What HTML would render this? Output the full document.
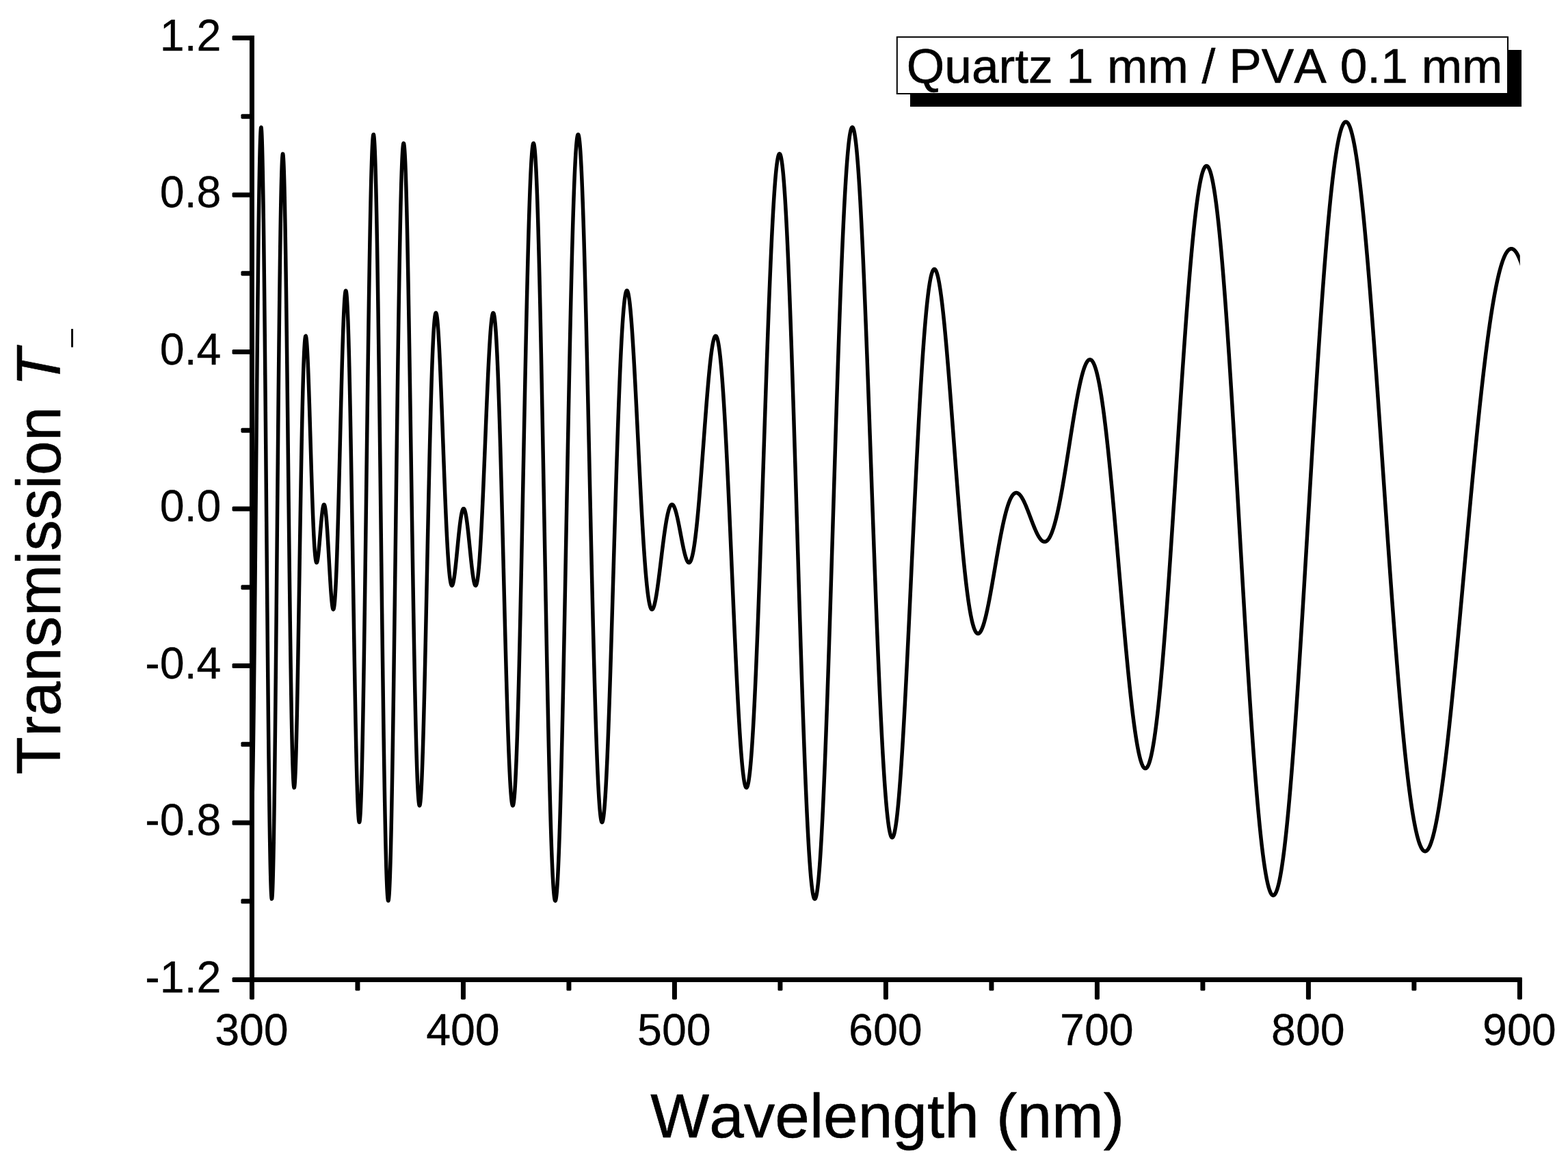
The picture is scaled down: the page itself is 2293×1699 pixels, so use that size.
<!DOCTYPE html>
<html lang="en">
<head>
<meta charset="utf-8">
<title>Transmission spectrum - Quartz 1 mm / PVA 0.1 mm</title>
<style>
html,body{margin:0;padding:0;background:#fff;}
body{width:2293px;height:1699px;overflow:hidden;}
svg{display:block;}
text{font-family:"Liberation Sans", Arial, Helvetica, sans-serif;font-kerning:none;fill:#000;stroke:#000;stroke-width:0.6px;stroke-linejoin:round;}
.tick{font-size:64.5px;stroke-width:0.3px;}
.title{font-size:91.0px;}
.legend{font-size:71.3px;}
.sub{font-size:46px;stroke:none;}
.ax{stroke:#000;stroke-width:7.0;stroke-linecap:round;fill:none;}
.tk{stroke:#000;stroke-width:7.0;stroke-linecap:round;fill:none;}
.curve{stroke:#000;stroke-width:5.5;stroke-linejoin:round;stroke-linecap:butt;fill:none;}
</style>
</head>
<body>
<svg width="2293" height="1699" viewBox="0 0 2293 1699">
<rect x="0" y="0" width="2293" height="1699" fill="#fff"/>
<clipPath id="plotclip"><rect x="368.45" y="0" width="1854.35" height="1699"/></clipPath>
<polyline class="curve" clip-path="url(#plotclip)" points="368.95,1174.00 369.26,1158.83 369.57,1141.80 369.88,1122.97 370.19,1102.41 370.49,1080.21 370.80,1056.45 371.11,1031.23 371.42,1004.64 371.73,976.80 372.04,947.81 372.35,917.80 372.66,886.88 372.97,855.19 373.28,822.86 373.58,790.02 373.89,756.80 374.20,723.36 374.51,689.82 374.82,656.32 375.13,623.02 375.44,590.04 375.75,557.54 376.06,525.63 376.37,494.47 376.67,464.19 376.98,434.90 377.29,406.74 377.60,379.83 377.91,354.27 378.22,330.19 378.53,307.68 378.84,286.84 379.15,267.76 379.46,250.52 379.76,235.20 380.07,221.85 380.38,210.55 380.69,201.34 381.00,194.26 381.31,189.34 381.62,186.61 381.93,186.08 382.24,187.76 382.55,191.63 382.85,197.69 383.16,205.92 383.47,216.28 383.78,228.74 384.09,243.24 384.40,259.73 384.71,278.14 385.02,298.40 385.33,320.43 385.64,344.14 385.94,369.45 386.25,396.24 386.56,424.41 386.87,453.85 387.18,484.44 387.49,516.06 387.80,548.59 388.11,581.89 388.42,615.84 388.73,650.30 389.03,685.14 389.34,720.22 389.65,755.39 389.96,790.53 390.27,825.50 390.58,860.16 390.89,894.37 391.20,928.00 391.51,960.93 391.82,993.02 392.12,1024.16 392.43,1054.23 392.74,1083.10 393.05,1110.68 393.36,1136.85 393.67,1161.52 393.98,1184.61 394.29,1206.01 394.60,1225.67 394.91,1243.49 395.21,1259.43 395.52,1273.42 395.83,1285.42 396.14,1295.39 396.45,1303.29 396.76,1309.10 397.07,1312.81 397.38,1314.40 397.69,1313.88 398.00,1311.26 398.30,1306.56 398.61,1299.79 398.92,1290.99 399.23,1280.20 399.54,1267.48 399.85,1252.87 400.16,1236.43 400.47,1218.24 400.78,1198.37 401.09,1176.90 401.39,1153.92 401.70,1129.52 402.01,1103.80 402.32,1076.85 402.63,1048.79 402.94,1019.72 403.25,989.76 403.56,959.01 403.87,927.61 404.18,895.66 404.48,863.28 404.79,830.61 405.10,797.75 405.41,764.84 405.72,731.99 406.03,699.32 406.34,666.95 406.65,635.00 406.96,603.58 407.26,572.80 407.57,542.78 407.88,513.61 408.19,485.40 408.50,458.25 408.81,432.24 409.12,407.46 409.43,383.99 409.74,361.92 410.05,341.31 410.35,322.22 410.66,304.72 410.97,288.86 411.28,274.68 411.59,262.22 411.90,251.52 412.21,242.59 412.52,235.47 412.83,230.16 413.14,226.66 413.44,224.98 413.75,225.11 414.06,227.03 414.37,230.73 414.68,236.17 414.99,243.33 415.30,252.16 415.61,262.62 415.92,274.65 416.23,288.21 416.53,303.24 416.84,319.65 417.15,337.40 417.46,356.40 417.77,376.57 418.08,397.83 418.39,420.11 418.70,443.30 419.01,467.33 419.32,492.09 419.62,517.50 419.93,543.46 420.24,569.88 420.55,596.65 420.86,623.69 421.17,650.89 421.48,678.15 421.79,705.39 422.10,732.50 422.41,759.40 422.71,785.99 423.02,812.19 423.33,837.90 423.64,863.04 423.95,887.53 424.26,911.30 424.57,934.27 424.88,956.37 425.19,977.53 425.50,997.68 425.80,1016.78 426.11,1034.77 426.42,1051.60 426.73,1067.22 427.04,1081.59 427.35,1094.68 427.66,1106.47 427.97,1116.92 428.28,1126.02 428.59,1133.75 428.89,1140.10 429.20,1145.07 429.51,1148.66 429.82,1150.87 430.13,1151.72 430.44,1151.22 430.75,1149.39 431.06,1146.25 431.37,1141.83 431.68,1136.17 431.98,1129.30 432.29,1121.26 432.60,1112.10 432.91,1101.86 433.22,1090.60 433.53,1078.36 433.84,1065.20 434.15,1051.19 434.46,1036.38 434.77,1020.83 435.07,1004.62 435.38,987.79 435.69,970.43 436.00,952.60 436.31,934.37 436.62,915.81 436.93,896.98 437.24,877.95 437.55,858.80 437.86,839.59 438.16,820.39 438.47,801.26 438.78,782.27 439.09,763.48 439.40,744.95 439.71,726.75 440.02,708.92 440.33,691.52 440.64,674.60 440.95,658.22 441.25,642.42 441.56,627.25 441.87,612.74 442.18,598.93 442.49,585.86 442.80,573.55 443.11,562.05 443.42,551.36 443.73,541.51 444.03,532.52 444.34,524.40 444.65,517.17 444.96,510.82 445.27,505.36 445.58,500.80 445.89,497.13 446.20,494.34 446.51,492.43 446.82,491.38 447.12,491.17 447.43,491.79 447.74,493.22 448.05,495.43 448.36,498.40 448.67,502.09 448.98,506.49 449.29,511.54 449.60,517.23 449.91,523.51 450.21,530.35 450.52,537.70 450.83,545.54 451.14,553.80 451.45,562.46 451.76,571.48 452.07,580.80 452.38,590.38 452.69,600.19 453.00,610.17 453.30,620.29 453.61,630.51 453.92,640.77 454.23,651.04 454.54,661.28 454.85,671.45 455.16,681.51 455.47,691.43 455.78,701.17 456.09,710.69 456.39,719.96 456.70,728.96 457.01,737.66 457.32,746.02 457.63,754.02 457.94,761.65 458.25,768.88 458.56,775.70 458.87,782.08 459.18,788.01 459.48,793.49 459.79,798.50 460.10,803.04 460.41,807.11 460.72,810.70 461.03,813.80 461.34,816.44 461.65,818.60 461.96,820.30 462.27,821.54 462.57,822.34 462.88,822.70 463.19,822.65 463.50,822.19 463.81,821.35 464.12,820.14 464.43,818.60 464.74,816.72 465.05,814.55 465.36,812.10 465.66,809.41 465.97,806.48 466.28,803.36 466.59,800.07 466.90,796.64 467.21,793.09 467.52,789.45 467.83,785.75 468.14,782.02 468.45,778.29 468.75,774.58 469.06,770.92 469.37,767.34 469.68,763.86 469.99,760.51 470.30,757.31 470.61,754.28 470.92,751.45 471.23,748.83 471.54,746.45 471.84,744.32 472.15,742.46 472.46,740.88 472.77,739.60 473.08,738.63 473.39,737.97 473.70,737.65 474.01,737.66 474.32,738.00 474.63,738.68 474.93,739.71 475.24,741.08 475.55,742.78 475.86,744.82 476.17,747.18 476.48,749.86 476.79,752.86 477.10,756.15 477.41,759.72 477.72,763.57 478.02,767.67 478.33,772.00 478.64,776.55 478.95,781.30 479.26,786.23 479.57,791.31 479.88,796.52 480.19,801.83 480.50,807.22 480.80,812.67 481.11,818.14 481.42,823.62 481.73,829.06 482.04,834.45 482.35,839.75 482.66,844.94 482.97,849.99 483.28,854.87 483.59,859.55 483.89,864.00 484.20,868.21 484.51,872.14 484.82,875.76 485.13,879.06 485.44,882.01 485.75,884.58 486.06,886.75 486.37,888.51 486.68,889.83 486.98,890.70 487.29,891.10 487.60,891.01 487.91,890.42 488.22,889.33 488.53,887.72 488.84,885.58 489.15,882.91 489.46,879.70 489.77,875.95 490.07,871.67 490.38,866.84 490.69,861.48 491.00,855.59 491.31,849.18 491.62,842.26 491.93,834.84 492.24,826.92 492.55,818.54 492.86,809.70 493.16,800.43 493.47,790.73 493.78,780.65 494.09,770.19 494.40,759.40 494.71,748.28 495.02,736.87 495.33,725.21 495.64,713.32 495.95,701.23 496.25,688.98 496.56,676.60 496.87,664.13 497.18,651.60 497.49,639.05 497.80,626.52 498.11,614.05 498.42,601.66 498.73,589.41 499.04,577.32 499.34,565.45 499.65,553.81 499.96,542.47 500.27,531.44 500.58,520.76 500.89,510.48 501.20,500.63 501.51,491.25 501.82,482.36 502.13,474.00 502.43,466.20 502.74,458.99 503.05,452.40 503.36,446.46 503.67,441.19 503.98,436.61 504.29,432.76 504.60,429.64 504.91,427.28 505.22,425.70 505.52,424.90 505.83,424.91 506.14,425.72 506.45,427.36 506.76,429.82 507.07,433.10 507.38,437.22 507.69,442.17 508.00,447.94 508.31,454.53 508.61,461.94 508.92,470.15 509.23,479.14 509.54,488.92 509.85,499.45 510.16,510.72 510.47,522.70 510.78,535.38 511.09,548.73 511.40,562.73 511.70,577.33 512.01,592.51 512.32,608.25 512.63,624.49 512.94,641.21 513.25,658.38 513.56,675.94 513.87,693.86 514.18,712.09 514.49,730.60 514.79,749.34 515.10,768.27 515.41,787.34 515.72,806.49 516.03,825.70 516.34,844.90 516.65,864.06 516.96,883.12 517.27,902.03 517.57,920.75 517.88,939.23 518.19,957.43 518.50,975.29 518.81,992.77 519.12,1009.82 519.43,1026.41 519.74,1042.48 520.05,1057.99 520.36,1072.90 520.66,1087.18 520.97,1100.78 521.28,1113.66 521.59,1125.79 521.90,1137.14 522.21,1147.66 522.52,1157.34 522.83,1166.15 523.14,1174.05 523.45,1181.02 523.75,1187.04 524.06,1192.09 524.37,1196.15 524.68,1199.21 524.99,1201.25 525.30,1202.26 525.61,1202.24 525.92,1201.18 526.23,1199.07 526.54,1195.91 526.84,1191.71 527.15,1186.48 527.46,1180.20 527.77,1172.91 528.08,1164.60 528.39,1155.29 528.70,1145.01 529.01,1133.76 529.32,1121.57 529.63,1108.46 529.93,1094.46 530.24,1079.60 530.55,1063.90 530.86,1047.40 531.17,1030.14 531.48,1012.14 531.79,993.46 532.10,974.11 532.41,954.16 532.72,933.64 533.02,912.59 533.33,891.06 533.64,869.10 533.95,846.75 534.26,824.07 534.57,801.10 534.88,777.90 535.19,754.51 535.50,730.99 535.81,707.38 536.11,683.75 536.42,660.14 536.73,636.61 537.04,613.21 537.35,589.99 537.66,567.00 537.97,544.30 538.28,521.94 538.59,499.96 538.90,478.41 539.20,457.35 539.51,436.82 539.82,416.87 540.13,397.55 540.44,378.89 540.75,360.94 541.06,343.74 541.37,327.33 541.68,311.74 541.99,297.02 542.29,283.20 542.60,270.30 542.91,258.36 543.22,247.41 543.53,237.47 543.84,228.56 544.15,220.71 544.46,213.93 544.77,208.24 545.08,203.66 545.38,200.19 545.69,197.84 546.00,196.63 546.31,196.56 546.62,197.62 546.93,199.81 547.24,203.14 547.55,207.60 547.86,213.18 548.17,219.86 548.47,227.65 548.78,236.51 549.09,246.43 549.40,257.40 549.71,269.38 550.02,282.37 550.33,296.32 550.64,311.21 550.95,327.02 551.26,343.70 551.56,361.22 551.87,379.55 552.18,398.65 552.49,418.48 552.80,439.00 553.11,460.17 553.42,481.94 553.73,504.26 554.04,527.10 554.35,550.40 554.65,574.12 554.96,598.21 555.27,622.61 555.58,647.28 555.89,672.17 556.20,697.22 556.51,722.39 556.82,747.63 557.13,772.87 557.43,798.07 557.74,823.18 558.05,848.15 558.36,872.93 558.67,897.46 558.98,921.70 559.29,945.60 559.60,969.10 559.91,992.17 560.22,1014.76 560.52,1036.82 560.83,1058.30 561.14,1079.17 561.45,1099.38 561.76,1118.89 562.07,1137.67 562.38,1155.68 562.69,1172.88 563.00,1189.24 563.31,1204.73 563.61,1219.32 563.92,1232.97 564.23,1245.67 564.54,1257.39 564.85,1268.11 565.16,1277.81 565.47,1286.47 565.78,1294.08 566.09,1300.62 566.40,1306.08 566.70,1310.45 567.01,1313.73 567.32,1315.91 567.63,1316.99 567.94,1316.96 568.25,1315.84 568.56,1313.63 568.87,1310.33 569.18,1305.95 569.49,1300.50 569.79,1293.99 570.10,1286.45 570.41,1277.88 570.72,1268.31 571.03,1257.75 571.34,1246.24 571.65,1233.79 571.96,1220.43 572.27,1206.19 572.58,1191.10 572.88,1175.18 573.19,1158.48 573.50,1141.03 573.81,1122.86 574.12,1104.01 574.43,1084.52 574.74,1064.43 575.05,1043.77 575.36,1022.59 575.67,1000.93 575.97,978.84 576.28,956.35 576.59,933.51 576.90,910.37 577.21,886.97 577.52,863.36 577.83,839.57 578.14,815.67 578.45,791.68 578.76,767.67 579.06,743.66 579.37,719.72 579.68,695.88 579.99,672.20 580.30,648.70 580.61,625.44 580.92,602.46 581.23,579.80 581.54,557.50 581.85,535.61 582.15,514.16 582.46,493.19 582.77,472.73 583.08,452.84 583.39,433.53 583.70,414.84 584.01,396.81 584.32,379.46 584.63,362.83 584.94,346.94 585.24,331.82 585.55,317.50 585.86,303.99 586.17,291.32 586.48,279.51 586.79,268.57 587.10,258.53 587.41,249.39 587.72,241.17 588.03,233.88 588.33,227.53 588.64,222.13 588.95,217.67 589.26,214.18 589.57,211.63 589.88,210.05 590.19,209.42 590.50,209.74 590.81,211.01 591.12,213.21 591.42,216.35 591.73,220.40 592.04,225.36 592.35,231.22 592.66,237.95 592.97,245.54 593.28,253.98 593.59,263.24 593.90,273.30 594.20,284.13 594.51,295.73 594.82,308.05 595.13,321.08 595.44,334.78 595.75,349.13 596.06,364.10 596.37,379.65 596.68,395.76 596.99,412.40 597.29,429.52 597.60,447.11 597.91,465.11 598.22,483.51 598.53,502.26 598.84,521.32 599.15,540.67 599.46,560.26 599.77,580.06 600.08,600.03 600.38,620.14 600.69,640.35 601.00,660.62 601.31,680.92 601.62,701.21 601.93,721.45 602.24,741.61 602.55,761.66 602.86,781.55 603.17,801.26 603.47,820.76 603.78,840.00 604.09,858.96 604.40,877.60 604.71,895.90 605.02,913.82 605.33,931.35 605.64,948.44 605.95,965.07 606.26,981.22 606.56,996.86 606.87,1011.97 607.18,1026.52 607.49,1040.50 607.80,1053.88 608.11,1066.65 608.42,1078.79 608.73,1090.28 609.04,1101.11 609.35,1111.26 609.65,1120.73 609.96,1129.49 610.27,1137.54 610.58,1144.88 610.89,1151.49 611.20,1157.37 611.51,1162.52 611.82,1166.93 612.13,1170.61 612.44,1173.54 612.74,1175.74 613.05,1177.21 613.36,1177.94 613.67,1177.95 613.98,1177.24 614.29,1175.81 614.60,1173.69 614.91,1170.87 615.22,1167.36 615.53,1163.19 615.83,1158.36 616.14,1152.89 616.45,1146.79 616.76,1140.08 617.07,1132.78 617.38,1124.90 617.69,1116.46 618.00,1107.49 618.31,1098.00 618.62,1088.02 618.92,1077.56 619.23,1066.65 619.54,1055.32 619.85,1043.58 620.16,1031.45 620.47,1018.98 620.78,1006.17 621.09,993.06 621.40,979.67 621.71,966.02 622.01,952.14 622.32,938.06 622.63,923.81 622.94,909.41 623.25,894.88 623.56,880.25 623.87,865.55 624.18,850.81 624.49,836.04 624.80,821.28 625.10,806.55 625.41,791.88 625.72,777.28 626.03,762.79 626.34,748.42 626.65,734.20 626.96,720.16 627.27,706.31 627.58,692.67 627.89,679.27 628.19,666.13 628.50,653.26 628.81,640.69 629.12,628.42 629.43,616.49 629.74,604.90 630.05,593.68 630.36,582.82 630.67,572.36 630.97,562.30 631.28,552.66 631.59,543.44 631.90,534.66 632.21,526.32 632.52,518.43 632.83,511.01 633.14,504.06 633.45,497.58 633.76,491.58 634.06,486.06 634.37,481.02 634.68,476.48 634.99,472.42 635.30,468.86 635.61,465.78 635.92,463.18 636.23,461.08 636.54,459.45 636.85,458.30 637.15,457.63 637.46,457.42 637.77,457.67 638.08,458.38 638.39,459.53 638.70,461.12 639.01,463.13 639.32,465.57 639.63,468.41 639.94,471.65 640.24,475.27 640.55,479.26 640.86,483.62 641.17,488.32 641.48,493.35 641.79,498.70 642.10,504.36 642.41,510.31 642.72,516.53 643.03,523.01 643.33,529.73 643.64,536.68 643.95,543.84 644.26,551.20 644.57,558.73 644.88,566.43 645.19,574.27 645.50,582.24 645.81,590.33 646.12,598.51 646.42,606.77 646.73,615.09 647.04,623.46 647.35,631.87 647.66,640.28 647.97,648.70 648.28,657.10 648.59,665.48 648.90,673.80 649.21,682.07 649.51,690.26 649.82,698.37 650.13,706.37 650.44,714.26 650.75,722.02 651.06,729.65 651.37,737.12 651.68,744.43 651.99,751.58 652.30,758.54 652.60,765.30 652.91,771.87 653.22,778.23 653.53,784.37 653.84,790.28 654.15,795.97 654.46,801.42 654.77,806.62 655.08,811.58 655.39,816.28 655.69,820.73 656.00,824.92 656.31,828.84 656.62,832.51 656.93,835.90 657.24,839.03 657.55,841.90 657.86,844.49 658.17,846.82 658.48,848.89 658.78,850.69 659.09,852.23 659.40,853.52 659.71,854.55 660.02,855.34 660.33,855.87 660.64,856.17 660.95,856.23 661.26,856.07 661.57,855.68 661.87,855.07 662.18,854.25 662.49,853.24 662.80,852.02 663.11,850.63 663.42,849.05 663.73,847.30 664.04,845.39 664.35,843.33 664.66,841.13 664.96,838.80 665.27,836.34 665.58,833.76 665.89,831.09 666.20,828.32 666.51,825.46 666.82,822.53 667.13,819.54 667.44,816.49 667.74,813.40 668.05,810.28 668.36,807.13 668.67,803.97 668.98,800.81 669.29,797.65 669.60,794.51 669.91,791.39 670.22,788.31 670.53,785.27 670.83,782.28 671.14,779.35 671.45,776.49 671.76,773.71 672.07,771.01 672.38,768.41 672.69,765.90 673.00,763.50 673.31,761.21 673.62,759.04 673.92,757.00 674.23,755.09 674.54,753.31 674.85,751.67 675.16,750.17 675.47,748.82 675.78,747.62 676.09,746.58 676.40,745.69 676.71,744.97 677.01,744.40 677.32,743.99 677.63,743.75 677.94,743.66 678.25,743.75 678.56,743.99 678.87,744.40 679.18,744.96 679.49,745.68 679.80,746.56 680.10,747.60 680.41,748.78 680.72,750.11 681.03,751.59 681.34,753.20 681.65,754.95 681.96,756.83 682.27,758.84 682.58,760.96 682.89,763.20 683.19,765.55 683.50,768.00 683.81,770.54 684.12,773.17 684.43,775.88 684.74,778.66 685.05,781.51 685.36,784.41 685.67,787.36 685.98,790.36 686.28,793.38 686.59,796.43 686.90,799.50 687.21,802.57 687.52,805.64 687.83,808.70 688.14,811.73 688.45,814.74 688.76,817.71 689.07,820.63 689.37,823.50 689.68,826.30 689.99,829.03 690.30,831.67 690.61,834.23 690.92,836.68 691.23,839.02 691.54,841.25 691.85,843.35 692.16,845.33 692.46,847.16 692.77,848.84 693.08,850.37 693.39,851.73 693.70,852.93 694.01,853.95 694.32,854.79 694.63,855.45 694.94,855.91 695.25,856.17 695.55,856.24 695.86,856.09 696.17,855.73 696.48,855.16 696.79,854.37 697.10,853.36 697.41,852.13 697.72,850.67 698.03,848.98 698.34,847.06 698.64,844.91 698.95,842.53 699.26,839.92 699.57,837.08 699.88,834.01 700.19,830.72 700.50,827.19 700.81,823.44 701.12,819.47 701.43,815.28 701.73,810.87 702.04,806.25 702.35,801.43 702.66,796.40 702.97,791.17 703.28,785.75 703.59,780.14 703.90,774.35 704.21,768.38 704.51,762.25 704.82,755.96 705.13,749.52 705.44,742.93 705.75,736.20 706.06,729.35 706.37,722.38 706.68,715.29 706.99,708.11 707.30,700.84 707.60,693.49 707.91,686.07 708.22,678.59 708.53,671.05 708.84,663.49 709.15,655.89 709.46,648.28 709.77,640.66 710.08,633.05 710.39,625.46 710.69,617.89 711.00,610.37 711.31,602.90 711.62,595.50 711.93,588.17 712.24,580.93 712.55,573.79 712.86,566.76 713.17,559.86 713.48,553.08 713.78,546.46 714.09,539.99 714.40,533.69 714.71,527.57 715.02,521.64 715.33,515.91 715.64,510.39 715.95,505.10 716.26,500.03 716.57,495.20 716.87,490.63 717.18,486.32 717.49,482.27 717.80,478.50 718.11,475.02 718.42,471.83 718.73,468.94 719.04,466.36 719.35,464.09 719.66,462.14 719.96,460.53 720.27,459.24 720.58,458.29 720.89,457.69 721.20,457.43 721.51,457.52 721.82,457.97 722.13,458.77 722.44,459.93 722.75,461.46 723.05,463.34 723.36,465.59 723.67,468.21 723.98,471.19 724.29,474.53 724.60,478.24 724.91,482.31 725.22,486.73 725.53,491.52 725.84,496.66 726.14,502.15 726.45,507.98 726.76,514.16 727.07,520.68 727.38,527.52 727.69,534.70 728.00,542.19 728.31,550.00 728.62,558.12 728.93,566.53 729.23,575.23 729.54,584.21 729.85,593.47 730.16,602.99 730.47,612.77 730.78,622.79 731.09,633.04 731.40,643.51 731.71,654.20 732.02,665.08 732.32,676.16 732.63,687.41 732.94,698.82 733.25,710.38 733.56,722.08 733.87,733.91 734.18,745.84 734.49,757.88 734.80,769.99 735.11,782.18 735.41,794.42 735.72,806.71 736.03,819.02 736.34,831.34 736.65,843.66 736.96,855.97 737.27,868.24 737.58,880.46 737.89,892.63 738.20,904.72 738.50,916.72 738.81,928.61 739.12,940.38 739.43,952.02 739.74,963.51 740.05,974.84 740.36,985.99 740.67,996.95 740.98,1007.70 741.28,1018.23 741.59,1028.53 741.90,1038.59 742.21,1048.39 742.52,1057.91 742.83,1067.16 743.14,1076.10 743.45,1084.74 743.76,1093.06 744.07,1101.05 744.37,1108.70 744.68,1115.99 744.99,1122.93 745.30,1129.49 745.61,1135.67 745.92,1141.46 746.23,1146.85 746.54,1151.84 746.85,1156.41 747.16,1160.56 747.46,1164.28 747.77,1167.57 748.08,1170.42 748.39,1172.83 748.70,1174.78 749.01,1176.28 749.32,1177.32 749.63,1177.90 749.94,1178.02 750.25,1177.67 750.55,1176.86 750.86,1175.57 751.17,1173.82 751.48,1171.60 751.79,1168.91 752.10,1165.75 752.41,1162.13 752.72,1158.04 753.03,1153.49 753.34,1148.48 753.64,1143.02 753.95,1137.11 754.26,1130.75 754.57,1123.96 754.88,1116.72 755.19,1109.07 755.50,1100.99 755.81,1092.49 756.12,1083.59 756.43,1074.29 756.73,1064.60 757.04,1054.53 757.35,1044.09 757.66,1033.29 757.97,1022.14 758.28,1010.65 758.59,998.83 758.90,986.70 759.21,974.26 759.52,961.52 759.82,948.51 760.13,935.23 760.44,921.70 760.75,907.92 761.06,893.93 761.37,879.71 761.68,865.31 761.99,850.72 762.30,835.96 762.61,821.05 762.91,806.00 763.22,790.83 763.53,775.55 763.84,760.19 764.15,744.74 764.46,729.25 764.77,713.70 765.08,698.14 765.39,682.56 765.70,666.99 766.00,651.44 766.31,635.93 766.62,620.47 766.93,605.09 767.24,589.79 767.55,574.59 767.86,559.52 768.17,544.58 768.48,529.79 768.79,515.17 769.09,500.73 769.40,486.49 769.71,472.46 770.02,458.66 770.33,445.10 770.64,431.79 770.95,418.76 771.26,406.01 771.57,393.56 771.88,381.41 772.18,369.60 772.49,358.12 772.80,346.99 773.11,336.22 773.42,325.82 773.73,315.81 774.04,306.19 774.35,296.97 774.66,288.17 774.97,279.80 775.27,271.86 775.58,264.36 775.89,257.31 776.20,250.72 776.51,244.60 776.82,238.95 777.13,233.77 777.44,229.08 777.75,224.89 778.05,221.18 778.36,217.98 778.67,215.28 778.98,213.08 779.29,211.40 779.60,210.22 779.91,209.56 780.22,209.42 780.53,209.79 780.84,210.67 781.14,212.07 781.45,213.99 781.76,216.42 782.07,219.36 782.38,222.81 782.69,226.76 783.00,231.22 783.31,236.17 783.62,241.62 783.93,247.56 784.23,253.99 784.54,260.89 784.85,268.26 785.16,276.10 785.47,284.39 785.78,293.14 786.09,302.33 786.40,311.95 786.71,321.99 787.02,332.45 787.32,343.32 787.63,354.57 787.94,366.22 788.25,378.23 788.56,390.61 788.87,403.33 789.18,416.40 789.49,429.79 789.80,443.49 790.11,457.49 790.41,471.78 790.72,486.34 791.03,501.16 791.34,516.22 791.65,531.52 791.96,547.02 792.27,562.74 792.58,578.63 792.89,594.70 793.20,610.93 793.50,627.29 793.81,643.78 794.12,660.38 794.43,677.07 794.74,693.85 795.05,710.68 795.36,727.56 795.67,744.47 795.98,761.40 796.29,778.32 796.59,795.23 796.90,812.10 797.21,828.92 797.52,845.68 797.83,862.36 798.14,878.95 798.45,895.42 798.76,911.76 799.07,927.97 799.38,944.01 799.68,959.89 799.99,975.58 800.30,991.06 800.61,1006.33 800.92,1021.38 801.23,1036.17 801.54,1050.72 801.85,1064.99 802.16,1078.98 802.47,1092.67 802.77,1106.05 803.08,1119.12 803.39,1131.85 803.70,1144.23 804.01,1156.26 804.32,1167.93 804.63,1179.22 804.94,1190.12 805.25,1200.63 805.56,1210.73 805.86,1220.42 806.17,1229.68 806.48,1238.51 806.79,1246.91 807.10,1254.85 807.41,1262.35 807.72,1269.38 808.03,1275.95 808.34,1282.05 808.65,1287.68 808.95,1292.82 809.26,1297.48 809.57,1301.65 809.88,1305.32 810.19,1308.50 810.50,1311.19 810.81,1313.38 811.12,1315.06 811.43,1316.25 811.74,1316.93 812.04,1317.11 812.35,1316.79 812.66,1315.97 812.97,1314.64 813.28,1312.83 813.59,1310.51 813.90,1307.71 814.21,1304.41 814.52,1300.63 814.82,1296.36 815.13,1291.62 815.44,1286.41 815.75,1280.72 816.06,1274.58 816.37,1267.98 816.68,1260.93 816.99,1253.44 817.30,1245.51 817.61,1237.16 817.91,1228.39 818.22,1219.20 818.53,1209.61 818.84,1199.63 819.15,1189.27 819.46,1178.53 819.77,1167.43 820.08,1155.97 820.39,1144.17 820.70,1132.03 821.00,1119.58 821.31,1106.81 821.62,1093.75 821.93,1080.40 822.24,1066.78 822.55,1052.89 822.86,1038.75 823.17,1024.38 823.48,1009.78 823.79,994.98 824.09,979.97 824.40,964.78 824.71,949.42 825.02,933.91 825.33,918.25 825.64,902.45 825.95,886.55 826.26,870.54 826.57,854.44 826.88,838.27 827.18,822.04 827.49,805.77 827.80,789.46 828.11,773.13 828.42,756.80 828.73,740.48 829.04,724.19 829.35,707.93 829.66,691.72 829.97,675.58 830.27,659.52 830.58,643.55 830.89,627.68 831.20,611.94 831.51,596.32 831.82,580.85 832.13,565.54 832.44,550.40 832.75,535.44 833.06,520.68 833.36,506.12 833.67,491.79 833.98,477.68 834.29,463.81 834.60,450.20 834.91,436.85 835.22,423.77 835.53,410.97 835.84,398.48 836.15,386.28 836.45,374.40 836.76,362.84 837.07,351.61 837.38,340.72 837.69,330.18 838.00,319.99 838.31,310.17 838.62,300.71 838.93,291.64 839.24,282.95 839.54,274.64 839.85,266.74 840.16,259.23 840.47,252.13 840.78,245.44 841.09,239.16 841.40,233.31 841.71,227.88 842.02,222.87 842.33,218.29 842.63,214.14 842.94,210.43 843.25,207.15 843.56,204.31 843.87,201.90 844.18,199.94 844.49,198.41 844.80,197.32 845.11,196.66 845.42,196.45 845.72,196.67 846.03,197.32 846.34,198.41 846.65,199.93 846.96,201.87 847.27,204.24 847.58,207.03 847.89,210.23 848.20,213.85 848.51,217.88 848.81,222.31 849.12,227.14 849.43,232.37 849.74,237.99 850.05,243.98 850.36,250.36 850.67,257.10 850.98,264.21 851.29,271.68 851.59,279.49 851.90,287.65 852.21,296.13 852.52,304.95 852.83,314.08 853.14,323.52 853.45,333.27 853.76,343.30 854.07,353.62 854.38,364.21 854.68,375.06 854.99,386.17 855.30,397.52 855.61,409.10 855.92,420.91 856.23,432.94 856.54,445.17 856.85,457.59 857.16,470.19 857.47,482.96 857.77,495.90 858.08,508.99 858.39,522.21 858.70,535.56 859.01,549.03 859.32,562.61 859.63,576.28 859.94,590.04 860.25,603.86 860.56,617.75 860.86,631.69 861.17,645.67 861.48,659.67 861.79,673.69 862.10,687.72 862.41,701.74 862.72,715.75 863.03,729.73 863.34,743.67 863.65,757.56 863.95,771.39 864.26,785.15 864.57,798.83 864.88,812.42 865.19,825.91 865.50,839.29 865.81,852.54 866.12,865.67 866.43,878.66 866.74,891.49 867.04,904.17 867.35,916.68 867.66,929.01 867.97,941.16 868.28,953.11 868.59,964.85 868.90,976.39 869.21,987.71 869.52,998.80 869.83,1009.66 870.13,1020.28 870.44,1030.64 870.75,1040.76 871.06,1050.61 871.37,1060.19 871.68,1069.50 871.99,1078.53 872.30,1087.27 872.61,1095.72 872.92,1103.88 873.22,1111.73 873.53,1119.28 873.84,1126.52 874.15,1133.45 874.46,1140.06 874.77,1146.34 875.08,1152.31 875.39,1157.95 875.70,1163.25 876.01,1168.23 876.31,1172.87 876.62,1177.18 876.93,1181.15 877.24,1184.78 877.55,1188.07 877.86,1191.02 878.17,1193.63 878.48,1195.90 878.79,1197.83 879.10,1199.41 879.40,1200.66 879.71,1201.57 880.02,1202.14 880.33,1202.37 880.64,1202.27 880.95,1201.84 881.26,1201.08 881.57,1199.98 881.88,1198.56 882.19,1196.82 882.49,1194.76 882.80,1192.38 883.11,1189.69 883.42,1186.69 883.73,1183.39 884.04,1179.78 884.35,1175.88 884.66,1171.68 884.97,1167.20 885.28,1162.44 885.58,1157.40 885.89,1152.09 886.20,1146.51 886.51,1140.67 886.82,1134.58 887.13,1128.24 887.44,1121.66 887.75,1114.84 888.06,1107.79 888.36,1100.52 888.67,1093.03 888.98,1085.34 889.29,1077.44 889.60,1069.35 889.91,1061.07 890.22,1052.61 890.53,1043.98 890.84,1035.18 891.15,1026.23 891.45,1017.12 891.76,1007.87 892.07,998.49 892.38,988.97 892.69,979.34 893.00,969.60 893.31,959.76 893.62,949.82 893.93,939.79 894.24,929.68 894.54,919.50 894.85,909.26 895.16,898.96 895.47,888.62 895.78,878.23 896.09,867.81 896.40,857.37 896.71,846.91 897.02,836.45 897.33,825.98 897.63,815.52 897.94,805.08 898.25,794.66 898.56,784.27 898.87,773.91 899.18,763.60 899.49,753.34 899.80,743.14 900.11,733.01 900.42,722.95 900.72,712.97 901.03,703.08 901.34,693.28 901.65,683.58 901.96,673.98 902.27,664.50 902.58,655.14 902.89,645.90 903.20,636.80 903.51,627.82 903.81,618.99 904.12,610.31 904.43,601.78 904.74,593.41 905.05,585.20 905.36,577.16 905.67,569.28 905.98,561.59 906.29,554.07 906.60,546.74 906.90,539.60 907.21,532.65 907.52,525.90 907.83,519.35 908.14,513.00 908.45,506.85 908.76,500.91 909.07,495.19 909.38,489.68 909.69,484.38 909.99,479.30 910.30,474.44 910.61,469.81 910.92,465.39 911.23,461.21 911.54,457.24 911.85,453.51 912.16,450.00 912.47,446.73 912.78,443.68 913.08,440.86 913.39,438.27 913.70,435.91 914.01,433.78 914.32,431.87 914.63,430.20 914.94,428.76 915.25,427.54 915.56,426.54 915.87,425.78 916.17,425.23 916.48,424.91 916.79,424.80 917.10,424.92 917.41,425.25 917.72,425.79 918.03,426.55 918.34,427.52 918.65,428.69 918.96,430.06 919.26,431.64 919.57,433.42 919.88,435.39 920.19,437.55 920.50,439.90 920.81,442.44 921.12,445.16 921.43,448.05 921.74,451.12 922.05,454.36 922.35,457.77 922.66,461.34 922.97,465.06 923.28,468.94 923.59,472.97 923.90,477.15 924.21,481.47 924.52,485.92 924.83,490.50 925.13,495.21 925.44,500.04 925.75,504.99 926.06,510.06 926.37,515.23 926.68,520.50 926.99,525.87 927.30,531.34 927.61,536.89 927.92,542.53 928.22,548.24 928.53,554.03 928.84,559.89 929.15,565.81 929.46,571.78 929.77,577.81 930.08,583.89 930.39,590.01 930.70,596.17 931.01,602.37 931.31,608.59 931.62,614.83 931.93,621.09 932.24,627.37 932.55,633.65 932.86,639.94 933.17,646.23 933.48,652.51 933.79,658.78 934.10,665.04 934.40,671.28 934.71,677.49 935.02,683.68 935.33,689.83 935.64,695.95 935.95,702.02 936.26,708.05 936.57,714.03 936.88,719.96 937.19,725.84 937.49,731.65 937.80,737.39 938.11,743.07 938.42,748.68 938.73,754.21 939.04,759.66 939.35,765.04 939.66,770.33 939.97,775.53 940.28,780.64 940.58,785.65 940.89,790.57 941.20,795.39 941.51,800.11 941.82,804.73 942.13,809.24 942.44,813.64 942.75,817.94 943.06,822.12 943.37,826.18 943.67,830.14 943.98,833.97 944.29,837.68 944.60,841.28 944.91,844.75 945.22,848.10 945.53,851.33 945.84,854.44 946.15,857.41 946.46,860.26 946.76,862.99 947.07,865.59 947.38,868.06 947.69,870.40 948.00,872.62 948.31,874.71 948.62,876.67 948.93,878.50 949.24,880.20 949.55,881.78 949.85,883.23 950.16,884.56 950.47,885.76 950.78,886.84 951.09,887.79 951.40,888.62 951.71,889.33 952.02,889.92 952.33,890.39 952.64,890.74 952.94,890.98 953.25,891.10 953.56,891.11 953.87,891.01 954.18,890.80 954.49,890.48 954.80,890.06 955.11,889.53 955.42,888.90 955.73,888.17 956.03,887.34 956.34,886.42 956.65,885.40 956.96,884.30 957.27,883.11 957.58,881.83 957.89,880.47 958.20,879.03 958.51,877.51 958.82,875.91 959.12,874.25 959.43,872.51 959.74,870.71 960.05,868.84 960.36,866.91 960.67,864.92 960.98,862.88 961.29,860.78 961.60,858.64 961.91,856.44 962.21,854.21 962.52,851.93 962.83,849.62 963.14,847.27 963.45,844.88 963.76,842.47 964.07,840.03 964.38,837.57 964.69,835.09 964.99,832.59 965.30,830.08 965.61,827.55 965.92,825.02 966.23,822.48 966.54,819.93 966.85,817.39 967.16,814.85 967.47,812.31 967.78,809.78 968.08,807.26 968.39,804.76 968.70,802.27 969.01,799.80 969.32,797.35 969.63,794.92 969.94,792.52 970.25,790.15 970.56,787.80 970.87,785.49 971.17,783.22 971.48,780.98 971.79,778.78 972.10,776.62 972.41,774.50 972.72,772.43 973.03,770.41 973.34,768.43 973.65,766.50 973.96,764.63 974.26,762.81 974.57,761.04 974.88,759.33 975.19,757.68 975.50,756.09 975.81,754.56 976.12,753.09 976.43,751.68 976.74,750.33 977.05,749.05 977.35,747.84 977.66,746.69 977.97,745.60 978.28,744.59 978.59,743.64 978.90,742.76 979.21,741.95 979.52,741.21 979.83,740.54 980.14,739.93 980.44,739.40 980.75,738.94 981.06,738.54 981.37,738.22 981.68,737.97 981.99,737.78 982.30,737.66 982.61,737.61 982.92,737.63 983.23,737.71 983.53,737.87 983.84,738.08 984.15,738.37 984.46,738.71 984.77,739.12 985.08,739.59 985.39,740.13 985.70,740.72 986.01,741.37 986.32,742.08 986.62,742.84 986.93,743.67 987.24,744.54 987.55,745.47 987.86,746.44 988.17,747.47 988.48,748.54 988.79,749.66 989.10,750.82 989.41,752.03 989.71,753.28 990.02,754.56 990.33,755.88 990.64,757.24 990.95,758.63 991.26,760.05 991.57,761.50 991.88,762.98 992.19,764.48 992.50,766.00 992.80,767.55 993.11,769.11 993.42,770.69 993.73,772.28 994.04,773.89 994.35,775.50 994.66,777.12 994.97,778.75 995.28,780.38 995.59,782.01 995.89,783.64 996.20,785.26 996.51,786.88 996.82,788.49 997.13,790.09 997.44,791.67 997.75,793.24 998.06,794.79 998.37,796.32 998.68,797.83 998.98,799.32 999.29,800.78 999.60,802.21 999.91,803.60 1000.22,804.97 1000.53,806.30 1000.84,807.59 1001.15,808.84 1001.46,810.06 1001.76,811.22 1002.07,812.35 1002.38,813.42 1002.69,814.44 1003.00,815.42 1003.31,816.34 1003.62,817.20 1003.93,818.01 1004.24,818.76 1004.55,819.45 1004.85,820.08 1005.16,820.65 1005.47,821.15 1005.78,821.58 1006.09,821.95 1006.40,822.25 1006.71,822.48 1007.02,822.63 1007.33,822.71 1007.64,822.72 1007.94,822.66 1008.25,822.51 1008.56,822.29 1008.87,822.00 1009.18,821.62 1009.49,821.17 1009.80,820.63 1010.11,820.01 1010.42,819.32 1010.73,818.54 1011.03,817.67 1011.34,816.73 1011.65,815.70 1011.96,814.59 1012.27,813.39 1012.58,812.12 1012.89,810.75 1013.20,809.31 1013.51,807.78 1013.82,806.16 1014.12,804.47 1014.43,802.69 1014.74,800.83 1015.05,798.88 1015.36,796.86 1015.67,794.75 1015.98,792.56 1016.29,790.30 1016.60,787.95 1016.91,785.53 1017.21,783.03 1017.52,780.45 1017.83,777.80 1018.14,775.08 1018.45,772.28 1018.76,769.41 1019.07,766.47 1019.38,763.46 1019.69,760.38 1020.00,757.24 1020.30,754.04 1020.61,750.77 1020.92,747.44 1021.23,744.05 1021.54,740.60 1021.85,737.09 1022.16,733.54 1022.47,729.93 1022.78,726.27 1023.09,722.56 1023.39,718.81 1023.70,715.01 1024.01,711.17 1024.32,707.29 1024.63,703.38 1024.94,699.43 1025.25,695.44 1025.56,691.43 1025.87,687.39 1026.18,683.32 1026.48,679.24 1026.79,675.13 1027.10,671.00 1027.41,666.86 1027.72,662.70 1028.03,658.54 1028.34,654.37 1028.65,650.19 1028.96,646.01 1029.27,641.83 1029.57,637.66 1029.88,633.49 1030.19,629.33 1030.50,625.18 1030.81,621.05 1031.12,616.93 1031.43,612.84 1031.74,608.77 1032.05,604.72 1032.36,600.70 1032.66,596.71 1032.97,592.76 1033.28,588.84 1033.59,584.97 1033.90,581.13 1034.21,577.34 1034.52,573.60 1034.83,569.91 1035.14,566.27 1035.45,562.69 1035.75,559.17 1036.06,555.71 1036.37,552.31 1036.68,548.98 1036.99,545.71 1037.30,542.52 1037.61,539.41 1037.92,536.37 1038.23,533.41 1038.53,530.53 1038.84,527.73 1039.15,525.02 1039.46,522.40 1039.77,519.87 1040.08,517.43 1040.39,515.09 1040.70,512.85 1041.01,510.70 1041.32,508.66 1041.62,506.72 1041.93,504.89 1042.24,503.16 1042.55,501.54 1042.86,500.03 1043.17,498.64 1043.48,497.36 1043.79,496.19 1044.10,495.14 1044.41,494.21 1044.71,493.41 1045.02,492.72 1045.33,492.15 1045.64,491.71 1045.95,491.40 1046.26,491.21 1046.57,491.15 1046.88,491.21 1047.19,491.41 1047.50,491.73 1047.80,492.19 1048.11,492.77 1048.42,493.49 1048.73,494.34 1049.04,495.33 1049.35,496.45 1049.66,497.70 1049.97,499.08 1050.28,500.60 1050.59,502.25 1050.89,504.04 1051.20,505.96 1051.51,508.01 1051.82,510.20 1052.13,512.52 1052.44,514.97 1052.75,517.56 1053.06,520.28 1053.37,523.12 1053.68,526.10 1053.98,529.21 1054.29,532.45 1054.60,535.82 1054.91,539.31 1055.22,542.93 1055.53,546.67 1055.84,550.54 1056.15,554.53 1056.46,558.64 1056.77,562.87 1057.07,567.22 1057.38,571.69 1057.69,576.27 1058.00,580.97 1058.31,585.77 1058.62,590.69 1058.93,595.71 1059.24,600.84 1059.55,606.08 1059.86,611.41 1060.16,616.85 1060.47,622.38 1060.78,628.01 1061.09,633.73 1061.40,639.54 1061.71,645.44 1062.02,651.42 1062.33,657.49 1062.64,663.64 1062.95,669.86 1063.25,676.17 1063.56,682.54 1063.87,688.98 1064.18,695.49 1064.49,702.06 1064.80,708.70 1065.11,715.39 1065.42,722.14 1065.73,728.94 1066.04,735.78 1066.34,742.68 1066.65,749.61 1066.96,756.59 1067.27,763.60 1067.58,770.64 1067.89,777.71 1068.20,784.81 1068.51,791.93 1068.82,799.07 1069.13,806.23 1069.43,813.40 1069.74,820.58 1070.05,827.76 1070.36,834.95 1070.67,842.14 1070.98,849.32 1071.29,856.49 1071.60,863.66 1071.91,870.80 1072.22,877.93 1072.52,885.04 1072.83,892.12 1073.14,899.17 1073.45,906.19 1073.76,913.18 1074.07,920.12 1074.38,927.02 1074.69,933.88 1075.00,940.68 1075.30,947.44 1075.61,954.13 1075.92,960.77 1076.23,967.34 1076.54,973.85 1076.85,980.29 1077.16,986.65 1077.47,992.94 1077.78,999.14 1078.09,1005.27 1078.39,1011.30 1078.70,1017.25 1079.01,1023.11 1079.32,1028.87 1079.63,1034.53 1079.94,1040.09 1080.25,1045.55 1080.56,1050.90 1080.87,1056.14 1081.18,1061.26 1081.48,1066.27 1081.79,1071.16 1082.10,1075.93 1082.41,1080.58 1082.72,1085.10 1083.03,1089.49 1083.34,1093.74 1083.65,1097.87 1083.96,1101.86 1084.27,1105.71 1084.57,1109.42 1084.88,1112.98 1085.19,1116.40 1085.50,1119.68 1085.81,1122.80 1086.12,1125.78 1086.43,1128.60 1086.74,1131.26 1087.05,1133.77 1087.36,1136.13 1087.66,1138.32 1087.97,1140.35 1088.28,1142.22 1088.59,1143.92 1088.90,1145.46 1089.21,1146.84 1089.52,1148.04 1089.83,1149.08 1090.14,1149.95 1090.45,1150.65 1090.75,1151.17 1091.06,1151.53 1091.37,1151.71 1091.68,1151.71 1091.99,1151.55 1092.30,1151.21 1092.61,1150.69 1092.92,1150.00 1093.23,1149.14 1093.54,1148.10 1093.84,1146.88 1094.15,1145.49 1094.46,1143.93 1094.77,1142.18 1095.08,1140.27 1095.39,1138.18 1095.70,1135.91 1096.01,1133.48 1096.32,1130.87 1096.63,1128.08 1096.93,1125.13 1097.24,1122.00 1097.55,1118.71 1097.86,1115.25 1098.17,1111.61 1098.48,1107.82 1098.79,1103.85 1099.10,1099.73 1099.41,1095.44 1099.72,1090.99 1100.02,1086.38 1100.33,1081.61 1100.64,1076.68 1100.95,1071.60 1101.26,1066.37 1101.57,1060.98 1101.88,1055.45 1102.19,1049.77 1102.50,1043.94 1102.81,1037.98 1103.11,1031.87 1103.42,1025.62 1103.73,1019.23 1104.04,1012.72 1104.35,1006.07 1104.66,999.29 1104.97,992.38 1105.28,985.36 1105.59,978.21 1105.90,970.94 1106.20,963.56 1106.51,956.07 1106.82,948.46 1107.13,940.75 1107.44,932.94 1107.75,925.02 1108.06,917.01 1108.37,908.91 1108.68,900.71 1108.99,892.43 1109.29,884.06 1109.60,875.61 1109.91,867.08 1110.22,858.48 1110.53,849.80 1110.84,841.06 1111.15,832.26 1111.46,823.39 1111.77,814.47 1112.07,805.50 1112.38,796.47 1112.69,787.40 1113.00,778.29 1113.31,769.14 1113.62,759.95 1113.93,750.73 1114.24,741.49 1114.55,732.22 1114.86,722.93 1115.16,713.62 1115.47,704.31 1115.78,694.98 1116.09,685.65 1116.40,676.32 1116.71,666.99 1117.02,657.67 1117.33,648.36 1117.64,639.06 1117.95,629.78 1118.25,620.52 1118.56,611.29 1118.87,602.09 1119.18,592.92 1119.49,583.79 1119.80,574.70 1120.11,565.65 1120.42,556.65 1120.73,547.71 1121.04,538.82 1121.34,529.99 1121.65,521.22 1121.96,512.52 1122.27,503.89 1122.58,495.33 1122.89,486.85 1123.20,478.45 1123.51,470.14 1123.82,461.91 1124.13,453.78 1124.43,445.74 1124.74,437.80 1125.05,429.96 1125.36,422.22 1125.67,414.59 1125.98,407.08 1126.29,399.67 1126.60,392.39 1126.91,385.22 1127.22,378.18 1127.52,371.26 1127.83,364.48 1128.14,357.82 1128.45,351.30 1128.76,344.92 1129.07,338.68 1129.38,332.58 1129.69,326.62 1130.00,320.82 1130.31,315.16 1130.61,309.66 1130.92,304.31 1131.23,299.12 1131.54,294.09 1131.85,289.22 1132.16,284.51 1132.47,279.97 1132.78,275.60 1133.09,271.40 1133.40,267.37 1133.70,263.51 1134.01,259.83 1134.32,256.32 1134.63,253.00 1134.94,249.85 1135.25,246.88 1135.56,244.10 1135.87,241.50 1136.18,239.08 1136.49,236.85 1136.79,234.81 1137.10,232.95 1137.41,231.28 1137.72,229.80 1138.03,228.52 1138.34,227.42 1138.65,226.52 1138.96,225.80 1139.27,225.28 1139.58,224.96 1139.88,224.82 1140.19,224.88 1140.50,225.13 1140.81,225.58 1141.12,226.22 1141.43,227.05 1141.74,228.08 1142.05,229.29 1142.36,230.71 1142.67,232.31 1142.97,234.11 1143.28,236.09 1143.59,238.27 1143.90,240.64 1144.21,243.19 1144.52,245.94 1144.83,248.87 1145.14,251.99 1145.45,255.29 1145.76,258.78 1146.06,262.45 1146.37,266.31 1146.68,270.34 1146.99,274.55 1147.30,278.94 1147.61,283.51 1147.92,288.25 1148.23,293.16 1148.54,298.24 1148.84,303.50 1149.15,308.92 1149.46,314.50 1149.77,320.25 1150.08,326.16 1150.39,332.23 1150.70,338.46 1151.01,344.84 1151.32,351.37 1151.63,358.05 1151.93,364.88 1152.24,371.86 1152.55,378.98 1152.86,386.24 1153.17,393.63 1153.48,401.16 1153.79,408.82 1154.10,416.61 1154.41,424.53 1154.72,432.57 1155.02,440.73 1155.33,449.01 1155.64,457.41 1155.95,465.91 1156.26,474.53 1156.57,483.24 1156.88,492.06 1157.19,500.98 1157.50,510.00 1157.81,519.11 1158.11,528.31 1158.42,537.59 1158.73,546.95 1159.04,556.40 1159.35,565.92 1159.66,575.51 1159.97,585.17 1160.28,594.89 1160.59,604.68 1160.90,614.53 1161.20,624.43 1161.51,634.38 1161.82,644.37 1162.13,654.42 1162.44,664.50 1162.75,674.62 1163.06,684.77 1163.37,694.95 1163.68,705.15 1163.99,715.38 1164.29,725.63 1164.60,735.89 1164.91,746.16 1165.22,756.43 1165.53,766.71 1165.84,776.99 1166.15,787.27 1166.46,797.54 1166.77,807.80 1167.08,818.04 1167.38,828.26 1167.69,838.47 1168.00,848.64 1168.31,858.79 1168.62,868.90 1168.93,878.98 1169.24,889.01 1169.55,899.00 1169.86,908.95 1170.17,918.84 1170.47,928.68 1170.78,938.46 1171.09,948.18 1171.40,957.84 1171.71,967.42 1172.02,976.94 1172.33,986.38 1172.64,995.74 1172.95,1005.02 1173.26,1014.21 1173.56,1023.32 1173.87,1032.34 1174.18,1041.26 1174.49,1050.08 1174.80,1058.80 1175.11,1067.42 1175.42,1075.94 1175.73,1084.34 1176.04,1092.63 1176.35,1100.81 1176.65,1108.86 1176.96,1116.80 1177.27,1124.61 1177.58,1132.30 1177.89,1139.86 1178.20,1147.28 1178.51,1154.58 1178.82,1161.73 1179.13,1168.75 1179.44,1175.62 1179.74,1182.35 1180.05,1188.94 1180.36,1195.38 1180.67,1201.66 1180.98,1207.80 1181.29,1213.78 1181.60,1219.60 1181.91,1225.27 1182.22,1230.77 1182.53,1236.11 1182.83,1241.29 1183.14,1246.30 1183.45,1251.15 1183.76,1255.82 1184.07,1260.33 1184.38,1264.66 1184.69,1268.82 1185.00,1272.81 1185.31,1276.62 1185.61,1280.25 1185.92,1283.70 1186.23,1286.98 1186.54,1290.07 1186.85,1292.99 1187.16,1295.72 1187.47,1298.26 1187.78,1300.63 1188.09,1302.81 1188.40,1304.80 1188.70,1306.61 1189.01,1308.23 1189.32,1309.67 1189.63,1310.92 1189.94,1311.98 1190.25,1312.85 1190.56,1313.54 1190.87,1314.04 1191.18,1314.35 1191.49,1314.47 1191.79,1314.40 1192.10,1314.15 1192.41,1313.71 1192.72,1313.08 1193.03,1312.27 1193.34,1311.27 1193.65,1310.08 1193.96,1308.71 1194.27,1307.15 1194.58,1305.41 1194.88,1303.48 1195.19,1301.37 1195.50,1299.09 1195.81,1296.61 1196.12,1293.96 1196.43,1291.13 1196.74,1288.13 1197.05,1284.94 1197.36,1281.58 1197.67,1278.05 1197.97,1274.34 1198.28,1270.47 1198.59,1266.42 1198.90,1262.20 1199.21,1257.82 1199.52,1253.27 1199.83,1248.55 1200.14,1243.68 1200.45,1238.64 1200.76,1233.44 1201.06,1228.09 1201.37,1222.59 1201.68,1216.93 1201.99,1211.12 1202.30,1205.16 1202.61,1199.05 1202.92,1192.80 1203.23,1186.41 1203.54,1179.87 1203.85,1173.20 1204.15,1166.39 1204.46,1159.45 1204.77,1152.38 1205.08,1145.18 1205.39,1137.86 1205.70,1130.41 1206.01,1122.84 1206.32,1115.15 1206.63,1107.35 1206.94,1099.43 1207.24,1091.40 1207.55,1083.27 1207.86,1075.03 1208.17,1066.69 1208.48,1058.24 1208.79,1049.71 1209.10,1041.08 1209.41,1032.35 1209.72,1023.55 1210.03,1014.65 1210.33,1005.67 1210.64,996.62 1210.95,987.49 1211.26,978.29 1211.57,969.01 1211.88,959.67 1212.19,950.27 1212.50,940.80 1212.81,931.28 1213.12,921.71 1213.42,912.08 1213.73,902.40 1214.04,892.68 1214.35,882.92 1214.66,873.12 1214.97,863.29 1215.28,853.42 1215.59,843.52 1215.90,833.60 1216.21,823.66 1216.51,813.69 1216.82,803.71 1217.13,793.72 1217.44,783.71 1217.75,773.70 1218.06,763.69 1218.37,753.68 1218.68,743.66 1218.99,733.66 1219.30,723.66 1219.60,713.68 1219.91,703.71 1220.22,693.76 1220.53,683.84 1220.84,673.94 1221.15,664.06 1221.46,654.22 1221.77,644.41 1222.08,634.64 1222.38,624.90 1222.69,615.22 1223.00,605.57 1223.31,595.98 1223.62,586.44 1223.93,576.95 1224.24,567.52 1224.55,558.15 1224.86,548.85 1225.17,539.61 1225.47,530.44 1225.78,521.35 1226.09,512.32 1226.40,503.38 1226.71,494.51 1227.02,485.73 1227.33,477.04 1227.64,468.43 1227.95,459.91 1228.26,451.48 1228.56,443.15 1228.87,434.92 1229.18,426.79 1229.49,418.76 1229.80,410.83 1230.11,403.02 1230.42,395.31 1230.73,387.71 1231.04,380.23 1231.35,372.86 1231.65,365.61 1231.96,358.49 1232.27,351.48 1232.58,344.60 1232.89,337.84 1233.20,331.21 1233.51,324.71 1233.82,318.35 1234.13,312.11 1234.44,306.01 1234.74,300.05 1235.05,294.23 1235.36,288.54 1235.67,283.00 1235.98,277.60 1236.29,272.34 1236.60,267.23 1236.91,262.27 1237.22,257.45 1237.53,252.78 1237.83,248.27 1238.14,243.90 1238.45,239.69 1238.76,235.63 1239.07,231.73 1239.38,227.98 1239.69,224.38 1240.00,220.95 1240.31,217.67 1240.62,214.55 1240.92,211.59 1241.23,208.79 1241.54,206.15 1241.85,203.68 1242.16,201.36 1242.47,199.20 1242.78,197.21 1243.09,195.38 1243.40,193.71 1243.71,192.21 1244.01,190.87 1244.32,189.69 1244.63,188.68 1244.94,187.82 1245.25,187.14 1245.56,186.61 1245.87,186.25 1246.18,186.05 1246.49,186.01 1246.80,186.14 1247.10,186.43 1247.41,186.87 1247.72,187.48 1248.03,188.26 1248.34,189.19 1248.65,190.28 1248.96,191.52 1249.27,192.93 1249.58,194.50 1249.89,196.22 1250.19,198.09 1250.50,200.13 1250.81,202.31 1251.12,204.65 1251.43,207.14 1251.74,209.78 1252.05,212.58 1252.36,215.52 1252.67,218.61 1252.98,221.84 1253.28,225.22 1253.59,228.75 1253.90,232.41 1254.21,236.22 1254.52,240.17 1254.83,244.26 1255.14,248.48 1255.45,252.84 1255.76,257.33 1256.07,261.96 1256.37,266.71 1256.68,271.60 1256.99,276.61 1257.30,281.74 1257.61,287.01 1257.92,292.39 1258.23,297.89 1258.54,303.51 1258.85,309.25 1259.15,315.10 1259.46,321.07 1259.77,327.14 1260.08,333.33 1260.39,339.62 1260.70,346.01 1261.01,352.51 1261.32,359.10 1261.63,365.80 1261.94,372.59 1262.24,379.48 1262.55,386.45 1262.86,393.52 1263.17,400.67 1263.48,407.91 1263.79,415.23 1264.10,422.63 1264.41,430.11 1264.72,437.66 1265.03,445.29 1265.33,452.99 1265.64,460.75 1265.95,468.59 1266.26,476.48 1266.57,484.44 1266.88,492.46 1267.19,500.53 1267.50,508.66 1267.81,516.84 1268.12,525.07 1268.42,533.34 1268.73,541.66 1269.04,550.02 1269.35,558.42 1269.66,566.86 1269.97,575.33 1270.28,583.84 1270.59,592.37 1270.90,600.93 1271.21,609.51 1271.51,618.12 1271.82,626.74 1272.13,635.38 1272.44,644.04 1272.75,652.70 1273.06,661.38 1273.37,670.07 1273.68,678.75 1273.99,687.44 1274.30,696.13 1274.60,704.82 1274.91,713.50 1275.22,722.17 1275.53,730.83 1275.84,739.48 1276.15,748.12 1276.46,756.74 1276.77,765.33 1277.08,773.91 1277.39,782.46 1277.69,790.98 1278.00,799.48 1278.31,807.94 1278.62,816.37 1278.93,824.76 1279.24,833.12 1279.55,841.43 1279.86,849.70 1280.17,857.93 1280.48,866.10 1280.78,874.23 1281.09,882.31 1281.40,890.33 1281.71,898.30 1282.02,906.21 1282.33,914.06 1282.64,921.85 1282.95,929.58 1283.26,937.23 1283.57,944.83 1283.87,952.35 1284.18,959.80 1284.49,967.17 1284.80,974.47 1285.11,981.70 1285.42,988.84 1285.73,995.90 1286.04,1002.88 1286.35,1009.78 1286.66,1016.59 1286.96,1023.32 1287.27,1029.95 1287.58,1036.49 1287.89,1042.95 1288.20,1049.30 1288.51,1055.57 1288.82,1061.73 1289.13,1067.80 1289.44,1073.77 1289.75,1079.64 1290.05,1085.40 1290.36,1091.06 1290.67,1096.62 1290.98,1102.07 1291.29,1107.41 1291.60,1112.65 1291.91,1117.77 1292.22,1122.79 1292.53,1127.69 1292.84,1132.48 1293.14,1137.16 1293.45,1141.72 1293.76,1146.17 1294.07,1150.50 1294.38,1154.72 1294.69,1158.81 1295.00,1162.79 1295.31,1166.65 1295.62,1170.38 1295.92,1174.00 1296.23,1177.49 1296.54,1180.87 1296.85,1184.12 1297.16,1187.24 1297.47,1190.25 1297.78,1193.13 1298.09,1195.88 1298.40,1198.51 1298.71,1201.02 1299.01,1203.40 1299.32,1205.65 1299.63,1207.78 1299.94,1209.78 1300.25,1211.65 1300.56,1213.40 1300.87,1215.03 1301.18,1216.52 1301.49,1217.89 1301.80,1219.13 1302.10,1220.25 1302.41,1221.24 1302.72,1222.10 1303.03,1222.84 1303.34,1223.45 1303.65,1223.93 1303.96,1224.29 1304.27,1224.53 1304.58,1224.64 1304.89,1224.62 1305.19,1224.49 1305.50,1224.22 1305.81,1223.84 1306.12,1223.33 1306.43,1222.70 1306.74,1221.95 1307.05,1221.08 1307.36,1220.08 1307.67,1218.97 1307.98,1217.74 1308.28,1216.39 1308.59,1214.92 1308.90,1213.33 1309.21,1211.63 1309.52,1209.82 1309.83,1207.88 1310.14,1205.84 1310.45,1203.68 1310.76,1201.42 1311.07,1199.04 1311.37,1196.55 1311.68,1193.95 1311.99,1191.25 1312.30,1188.43 1312.61,1185.52 1312.92,1182.50 1313.23,1179.37 1313.54,1176.15 1313.85,1172.82 1314.16,1169.39 1314.46,1165.87 1314.77,1162.24 1315.08,1158.53 1315.39,1154.71 1315.70,1150.81 1316.01,1146.81 1316.32,1142.72 1316.63,1138.55 1316.94,1134.28 1317.25,1129.93 1317.55,1125.49 1317.86,1120.97 1318.17,1116.37 1318.48,1111.69 1318.79,1106.93 1319.10,1102.09 1319.41,1097.18 1319.72,1092.19 1320.03,1087.13 1320.34,1082.00 1320.64,1076.80 1320.95,1071.53 1321.26,1066.19 1321.57,1060.79 1321.88,1055.32 1322.19,1049.80 1322.50,1044.21 1322.81,1038.57 1323.12,1032.87 1323.43,1027.11 1323.73,1021.31 1324.04,1015.45 1324.35,1009.54 1324.66,1003.58 1324.97,997.58 1325.28,991.53 1325.59,985.44 1325.90,979.30 1326.21,973.13 1326.52,966.92 1326.82,960.68 1327.13,954.40 1327.44,948.09 1327.75,941.75 1328.06,935.37 1328.37,928.98 1328.68,922.55 1328.99,916.10 1329.30,909.64 1329.61,903.15 1329.91,896.64 1330.22,890.11 1330.53,883.57 1330.84,877.02 1331.15,870.46 1331.46,863.88 1331.77,857.30 1332.08,850.71 1332.39,844.12 1332.70,837.52 1333.00,830.93 1333.31,824.33 1333.62,817.73 1333.93,811.14 1334.24,804.56 1334.55,797.98 1334.86,791.41 1335.17,784.85 1335.48,778.31 1335.78,771.78 1336.09,765.26 1336.40,758.76 1336.71,752.28 1337.02,745.81 1337.33,739.37 1337.64,732.96 1337.95,726.57 1338.26,720.20 1338.57,713.86 1338.87,707.55 1339.18,701.28 1339.49,695.03 1339.80,688.82 1340.11,682.64 1340.42,676.50 1340.73,670.40 1341.04,664.34 1341.35,658.32 1341.66,652.34 1341.96,646.40 1342.27,640.51 1342.58,634.66 1342.89,628.86 1343.20,623.12 1343.51,617.42 1343.82,611.77 1344.13,606.17 1344.44,600.63 1344.75,595.14 1345.05,589.71 1345.36,584.34 1345.67,579.02 1345.98,573.76 1346.29,568.56 1346.60,563.43 1346.91,558.35 1347.22,553.34 1347.53,548.40 1347.84,543.52 1348.14,538.70 1348.45,533.96 1348.76,529.28 1349.07,524.67 1349.38,520.13 1349.69,515.66 1350.00,511.26 1350.31,506.94 1350.62,502.69 1350.93,498.51 1351.23,494.40 1351.54,490.38 1351.85,486.42 1352.16,482.55 1352.47,478.75 1352.78,475.03 1353.09,471.39 1353.40,467.82 1353.71,464.34 1354.02,460.93 1354.32,457.61 1354.63,454.37 1354.94,451.21 1355.25,448.13 1355.56,445.13 1355.87,442.22 1356.18,439.39 1356.49,436.64 1356.80,433.98 1357.11,431.40 1357.41,428.90 1357.72,426.49 1358.03,424.16 1358.34,421.92 1358.65,419.76 1358.96,417.69 1359.27,415.71 1359.58,413.81 1359.89,411.99 1360.20,410.26 1360.50,408.62 1360.81,407.06 1361.12,405.58 1361.43,404.20 1361.74,402.89 1362.05,401.68 1362.36,400.54 1362.67,399.50 1362.98,398.54 1363.29,397.66 1363.59,396.87 1363.90,396.16 1364.21,395.54 1364.52,395.00 1364.83,394.54 1365.14,394.17 1365.45,393.88 1365.76,393.67 1366.07,393.55 1366.38,393.51 1366.68,393.55 1366.99,393.67 1367.30,393.87 1367.61,394.15 1367.92,394.52 1368.23,394.96 1368.54,395.48 1368.85,396.08 1369.16,396.76 1369.47,397.51 1369.77,398.34 1370.08,399.25 1370.39,400.23 1370.70,401.29 1371.01,402.43 1371.32,403.63 1371.63,404.91 1371.94,406.26 1372.25,407.69 1372.55,409.18 1372.86,410.75 1373.17,412.38 1373.48,414.08 1373.79,415.85 1374.10,417.69 1374.41,419.60 1374.72,421.57 1375.03,423.60 1375.34,425.70 1375.64,427.86 1375.95,430.08 1376.26,432.37 1376.57,434.72 1376.88,437.12 1377.19,439.58 1377.50,442.11 1377.81,444.69 1378.12,447.32 1378.43,450.01 1378.73,452.75 1379.04,455.55 1379.35,458.40 1379.66,461.30 1379.97,464.25 1380.28,467.25 1380.59,470.29 1380.90,473.39 1381.21,476.53 1381.52,479.71 1381.82,482.94 1382.13,486.22 1382.44,489.53 1382.75,492.89 1383.06,496.28 1383.37,499.72 1383.68,503.19 1383.99,506.70 1384.30,510.24 1384.61,513.82 1384.91,517.43 1385.22,521.08 1385.53,524.76 1385.84,528.46 1386.15,532.20 1386.46,535.96 1386.77,539.76 1387.08,543.57 1387.39,547.42 1387.70,551.28 1388.00,555.17 1388.31,559.08 1388.62,563.01 1388.93,566.96 1389.24,570.93 1389.55,574.92 1389.86,578.92 1390.17,582.94 1390.48,586.97 1390.79,591.02 1391.09,595.08 1391.40,599.15 1391.71,603.22 1392.02,607.31 1392.33,611.41 1392.64,615.51 1392.95,619.62 1393.26,623.73 1393.57,627.84 1393.88,631.96 1394.18,636.08 1394.49,640.20 1394.80,644.32 1395.11,648.44 1395.42,652.55 1395.73,656.67 1396.04,660.77 1396.35,664.88 1396.66,668.97 1396.97,673.06 1397.27,677.14 1397.58,681.21 1397.89,685.27 1398.20,689.32 1398.51,693.35 1398.82,697.38 1399.13,701.39 1399.44,705.38 1399.75,709.36 1400.06,713.32 1400.36,717.27 1400.67,721.19 1400.98,725.10 1401.29,728.99 1401.60,732.85 1401.91,736.70 1402.22,740.52 1402.53,744.32 1402.84,748.09 1403.15,751.84 1403.45,755.56 1403.76,759.26 1404.07,762.93 1404.38,766.57 1404.69,770.19 1405.00,773.77 1405.31,777.32 1405.62,780.85 1405.93,784.34 1406.24,787.80 1406.54,791.22 1406.85,794.62 1407.16,797.98 1407.47,801.30 1407.78,804.59 1408.09,807.84 1408.40,811.06 1408.71,814.24 1409.02,817.38 1409.32,820.49 1409.63,823.56 1409.94,826.58 1410.25,829.57 1410.56,832.52 1410.87,835.42 1411.18,838.29 1411.49,841.12 1411.80,843.90 1412.11,846.64 1412.41,849.34 1412.72,851.99 1413.03,854.61 1413.34,857.17 1413.65,859.70 1413.96,862.18 1414.27,864.61 1414.58,867.00 1414.89,869.35 1415.20,871.65 1415.50,873.90 1415.81,876.11 1416.12,878.27 1416.43,880.38 1416.74,882.45 1417.05,884.47 1417.36,886.44 1417.67,888.37 1417.98,890.25 1418.29,892.08 1418.59,893.86 1418.90,895.60 1419.21,897.29 1419.52,898.93 1419.83,900.52 1420.14,902.06 1420.45,903.56 1420.76,905.01 1421.07,906.41 1421.38,907.76 1421.68,909.06 1421.99,910.32 1422.30,911.53 1422.61,912.68 1422.92,913.80 1423.23,914.86 1423.54,915.87 1423.85,916.84 1424.16,917.76 1424.47,918.63 1424.77,919.46 1425.08,920.24 1425.39,920.97 1425.70,921.65 1426.01,922.29 1426.32,922.88 1426.63,923.42 1426.94,923.92 1427.25,924.37 1427.56,924.78 1427.86,925.14 1428.17,925.46 1428.48,925.73 1428.79,925.96 1429.10,926.14 1429.41,926.28 1429.72,926.37 1430.03,926.42 1430.34,926.43 1430.65,926.40 1430.95,926.32 1431.26,926.20 1431.57,926.04 1431.88,925.84 1432.19,925.60 1432.50,925.32 1432.81,925.00 1433.12,924.63 1433.43,924.23 1433.74,923.79 1434.04,923.31 1434.35,922.80 1434.66,922.24 1434.97,921.65 1435.28,921.03 1435.59,920.36 1435.90,919.66 1436.21,918.93 1436.52,918.16 1436.83,917.36 1437.13,916.52 1437.44,915.65 1437.75,914.75 1438.06,913.81 1438.37,912.85 1438.68,911.85 1438.99,910.83 1439.30,909.77 1439.61,908.68 1439.92,907.57 1440.22,906.42 1440.53,905.25 1440.84,904.05 1441.15,902.83 1441.46,901.58 1441.77,900.30 1442.08,899.00 1442.39,897.68 1442.70,896.33 1443.01,894.96 1443.31,893.56 1443.62,892.15 1443.93,890.71 1444.24,889.25 1444.55,887.77 1444.86,886.27 1445.17,884.76 1445.48,883.22 1445.79,881.67 1446.09,880.10 1446.40,878.51 1446.71,876.91 1447.02,875.30 1447.33,873.66 1447.64,872.02 1447.95,870.36 1448.26,868.69 1448.57,867.00 1448.88,865.31 1449.18,863.60 1449.49,861.88 1449.80,860.15 1450.11,858.42 1450.42,856.67 1450.73,854.92 1451.04,853.16 1451.35,851.39 1451.66,849.62 1451.97,847.84 1452.27,846.06 1452.58,844.27 1452.89,842.48 1453.20,840.68 1453.51,838.88 1453.82,837.08 1454.13,835.28 1454.44,833.48 1454.75,831.67 1455.06,829.87 1455.36,828.07 1455.67,826.27 1455.98,824.47 1456.29,822.67 1456.60,820.88 1456.91,819.09 1457.22,817.30 1457.53,815.52 1457.84,813.74 1458.15,811.97 1458.45,810.20 1458.76,808.44 1459.07,806.69 1459.38,804.95 1459.69,803.21 1460.00,801.48 1460.31,799.77 1460.62,798.06 1460.93,796.36 1461.24,794.67 1461.54,792.99 1461.85,791.32 1462.16,789.67 1462.47,788.02 1462.78,786.39 1463.09,784.78 1463.40,783.17 1463.71,781.58 1464.02,780.01 1464.33,778.45 1464.63,776.90 1464.94,775.37 1465.25,773.86 1465.56,772.36 1465.87,770.87 1466.18,769.41 1466.49,767.96 1466.80,766.53 1467.11,765.12 1467.42,763.72 1467.72,762.35 1468.03,760.99 1468.34,759.65 1468.65,758.33 1468.96,757.04 1469.27,755.76 1469.58,754.50 1469.89,753.26 1470.20,752.04 1470.51,750.84 1470.81,749.67 1471.12,748.51 1471.43,747.38 1471.74,746.27 1472.05,745.18 1472.36,744.12 1472.67,743.07 1472.98,742.05 1473.29,741.05 1473.60,740.07 1473.90,739.12 1474.21,738.19 1474.52,737.28 1474.83,736.40 1475.14,735.54 1475.45,734.71 1475.76,733.89 1476.07,733.11 1476.38,732.34 1476.69,731.60 1476.99,730.88 1477.30,730.19 1477.61,729.52 1477.92,728.88 1478.23,728.26 1478.54,727.66 1478.85,727.09 1479.16,726.55 1479.47,726.02 1479.78,725.52 1480.08,725.05 1480.39,724.60 1480.70,724.17 1481.01,723.77 1481.32,723.39 1481.63,723.04 1481.94,722.71 1482.25,722.40 1482.56,722.12 1482.86,721.86 1483.17,721.63 1483.48,721.42 1483.79,721.23 1484.10,721.07 1484.41,720.92 1484.72,720.81 1485.03,720.71 1485.34,720.64 1485.65,720.59 1485.95,720.56 1486.26,720.55 1486.57,720.57 1486.88,720.61 1487.19,720.67 1487.50,720.75 1487.81,720.85 1488.12,720.98 1488.43,721.12 1488.74,721.29 1489.04,721.47 1489.35,721.68 1489.66,721.91 1489.97,722.15 1490.28,722.42 1490.59,722.70 1490.90,723.01 1491.21,723.33 1491.52,723.67 1491.83,724.03 1492.13,724.40 1492.44,724.80 1492.75,725.21 1493.06,725.64 1493.37,726.08 1493.68,726.54 1493.99,727.02 1494.30,727.51 1494.61,728.02 1494.92,728.55 1495.22,729.08 1495.53,729.64 1495.84,730.20 1496.15,730.78 1496.46,731.38 1496.77,731.98 1497.08,732.60 1497.39,733.23 1497.70,733.88 1498.01,734.53 1498.31,735.20 1498.62,735.87 1498.93,736.56 1499.24,737.26 1499.55,737.97 1499.86,738.68 1500.17,739.41 1500.48,740.14 1500.79,740.88 1501.10,741.63 1501.40,742.39 1501.71,743.15 1502.02,743.92 1502.33,744.70 1502.64,745.48 1502.95,746.27 1503.26,747.06 1503.57,747.86 1503.88,748.66 1504.19,749.47 1504.49,750.27 1504.80,751.08 1505.11,751.90 1505.42,752.71 1505.73,753.53 1506.04,754.35 1506.35,755.17 1506.66,755.99 1506.97,756.81 1507.28,757.63 1507.58,758.45 1507.89,759.27 1508.20,760.09 1508.51,760.90 1508.82,761.71 1509.13,762.52 1509.44,763.33 1509.75,764.13 1510.06,764.93 1510.37,765.72 1510.67,766.51 1510.98,767.30 1511.29,768.08 1511.60,768.85 1511.91,769.62 1512.22,770.37 1512.53,771.13 1512.84,771.87 1513.15,772.61 1513.46,773.34 1513.76,774.06 1514.07,774.77 1514.38,775.47 1514.69,776.16 1515.00,776.85 1515.31,777.52 1515.62,778.18 1515.93,778.83 1516.24,779.47 1516.55,780.09 1516.85,780.71 1517.16,781.31 1517.47,781.90 1517.78,782.47 1518.09,783.03 1518.40,783.58 1518.71,784.11 1519.02,784.63 1519.33,785.14 1519.63,785.62 1519.94,786.10 1520.25,786.56 1520.56,787.00 1520.87,787.42 1521.18,787.83 1521.49,788.22 1521.80,788.60 1522.11,788.95 1522.42,789.29 1522.72,789.61 1523.03,789.92 1523.34,790.20 1523.65,790.47 1523.96,790.71 1524.27,790.94 1524.58,791.15 1524.89,791.34 1525.20,791.51 1525.51,791.66 1525.81,791.78 1526.12,791.89 1526.43,791.98 1526.74,792.05 1527.05,792.09 1527.36,792.11 1527.67,792.12 1527.98,792.10 1528.29,792.06 1528.60,791.99 1528.90,791.91 1529.21,791.80 1529.52,791.67 1529.83,791.52 1530.14,791.35 1530.45,791.15 1530.76,790.93 1531.07,790.69 1531.38,790.42 1531.69,790.13 1531.99,789.82 1532.30,789.49 1532.61,789.13 1532.92,788.75 1533.23,788.34 1533.54,787.91 1533.85,787.46 1534.16,786.99 1534.47,786.49 1534.78,785.97 1535.08,785.42 1535.39,784.85 1535.70,784.26 1536.01,783.64 1536.32,783.00 1536.63,782.33 1536.94,781.65 1537.25,780.94 1537.56,780.20 1537.87,779.44 1538.17,778.66 1538.48,777.86 1538.79,777.03 1539.10,776.18 1539.41,775.30 1539.72,774.40 1540.03,773.48 1540.34,772.54 1540.65,771.57 1540.96,770.58 1541.26,769.57 1541.57,768.54 1541.88,767.48 1542.19,766.40 1542.50,765.30 1542.81,764.18 1543.12,763.04 1543.43,761.87 1543.74,760.69 1544.05,759.48 1544.35,758.25 1544.66,757.00 1544.97,755.73 1545.28,754.44 1545.59,753.13 1545.90,751.79 1546.21,750.44 1546.52,749.07 1546.83,747.68 1547.14,746.27 1547.44,744.84 1547.75,743.40 1548.06,741.93 1548.37,740.45 1548.68,738.94 1548.99,737.42 1549.30,735.89 1549.61,734.33 1549.92,732.76 1550.23,731.18 1550.53,729.57 1550.84,727.95 1551.15,726.32 1551.46,724.67 1551.77,723.00 1552.08,721.32 1552.39,719.63 1552.70,717.92 1553.01,716.19 1553.32,714.46 1553.62,712.71 1553.93,710.95 1554.24,709.17 1554.55,707.39 1554.86,705.59 1555.17,703.78 1555.48,701.96 1555.79,700.13 1556.10,698.28 1556.40,696.43 1556.71,694.57 1557.02,692.70 1557.33,690.82 1557.64,688.94 1557.95,687.04 1558.26,685.14 1558.57,683.23 1558.88,681.31 1559.19,679.39 1559.49,677.46 1559.80,675.52 1560.11,673.58 1560.42,671.64 1560.73,669.69 1561.04,667.74 1561.35,665.78 1561.66,663.82 1561.97,661.86 1562.28,659.90 1562.58,657.93 1562.89,655.96 1563.20,654.00 1563.51,652.03 1563.82,650.06 1564.13,648.09 1564.44,646.12 1564.75,644.16 1565.06,642.19 1565.37,640.23 1565.67,638.27 1565.98,636.31 1566.29,634.36 1566.60,632.41 1566.91,630.47 1567.22,628.53 1567.53,626.59 1567.84,624.66 1568.15,622.74 1568.46,620.82 1568.76,618.91 1569.07,617.01 1569.38,615.12 1569.69,613.23 1570.00,611.35 1570.31,609.49 1570.62,607.63 1570.93,605.78 1571.24,603.94 1571.55,602.12 1571.85,600.30 1572.16,598.50 1572.47,596.71 1572.78,594.93 1573.09,593.17 1573.40,591.42 1573.71,589.68 1574.02,587.96 1574.33,586.26 1574.64,584.56 1574.94,582.89 1575.25,581.23 1575.56,579.59 1575.87,577.96 1576.18,576.35 1576.49,574.76 1576.80,573.19 1577.11,571.64 1577.42,570.11 1577.73,568.59 1578.03,567.10 1578.34,565.63 1578.65,564.17 1578.96,562.74 1579.27,561.33 1579.58,559.94 1579.89,558.58 1580.20,557.24 1580.51,555.92 1580.82,554.62 1581.12,553.35 1581.43,552.10 1581.74,550.88 1582.05,549.68 1582.36,548.50 1582.67,547.36 1582.98,546.23 1583.29,545.14 1583.60,544.07 1583.91,543.03 1584.21,542.02 1584.52,541.03 1584.83,540.07 1585.14,539.14 1585.45,538.24 1585.76,537.37 1586.07,536.52 1586.38,535.71 1586.69,534.93 1587.00,534.17 1587.30,533.45 1587.61,532.76 1587.92,532.10 1588.23,531.47 1588.54,530.87 1588.85,530.30 1589.16,529.77 1589.47,529.26 1589.78,528.79 1590.09,528.36 1590.39,527.95 1590.70,527.58 1591.01,527.24 1591.32,526.94 1591.63,526.67 1591.94,526.43 1592.25,526.23 1592.56,526.06 1592.87,525.93 1593.17,525.83 1593.48,525.77 1593.79,525.74 1594.10,525.75 1594.41,525.79 1594.72,525.87 1595.03,525.98 1595.34,526.13 1595.65,526.32 1595.96,526.54 1596.26,526.80 1596.57,527.09 1596.88,527.43 1597.19,527.79 1597.50,528.20 1597.81,528.64 1598.12,529.12 1598.43,529.63 1598.74,530.18 1599.05,530.77 1599.35,531.40 1599.66,532.06 1599.97,532.76 1600.28,533.50 1600.59,534.28 1600.90,535.09 1601.21,535.94 1601.52,536.82 1601.83,537.75 1602.14,538.71 1602.44,539.71 1602.75,540.74 1603.06,541.81 1603.37,542.92 1603.68,544.07 1603.99,545.25 1604.30,546.47 1604.61,547.73 1604.92,549.03 1605.23,550.36 1605.53,551.72 1605.84,553.13 1606.15,554.57 1606.46,556.05 1606.77,557.56 1607.08,559.11 1607.39,560.70 1607.70,562.32 1608.01,563.98 1608.32,565.67 1608.62,567.40 1608.93,569.16 1609.24,570.96 1609.55,572.80 1609.86,574.67 1610.17,576.57 1610.48,578.51 1610.79,580.48 1611.10,582.49 1611.41,584.53 1611.71,586.61 1612.02,588.71 1612.33,590.86 1612.64,593.03 1612.95,595.24 1613.26,597.48 1613.57,599.75 1613.88,602.05 1614.19,604.39 1614.50,606.76 1614.80,609.15 1615.11,611.58 1615.42,614.04 1615.73,616.54 1616.04,619.06 1616.35,621.61 1616.66,624.19 1616.97,626.80 1617.28,629.43 1617.59,632.10 1617.89,634.79 1618.20,637.52 1618.51,640.27 1618.82,643.04 1619.13,645.85 1619.44,648.68 1619.75,651.53 1620.06,654.42 1620.37,657.32 1620.68,660.26 1620.98,663.21 1621.29,666.19 1621.60,669.20 1621.91,672.23 1622.22,675.28 1622.53,678.35 1622.84,681.45 1623.15,684.57 1623.46,687.71 1623.77,690.87 1624.07,694.05 1624.38,697.25 1624.69,700.47 1625.00,703.71 1625.31,706.97 1625.62,710.25 1625.93,713.54 1626.24,716.86 1626.55,720.19 1626.86,723.53 1627.16,726.89 1627.47,730.27 1627.78,733.67 1628.09,737.07 1628.40,740.49 1628.71,743.93 1629.02,747.38 1629.33,750.84 1629.64,754.31 1629.94,757.80 1630.25,761.29 1630.56,764.80 1630.87,768.32 1631.18,771.85 1631.49,775.38 1631.80,778.93 1632.11,782.48 1632.42,786.04 1632.73,789.61 1633.03,793.18 1633.34,796.76 1633.65,800.35 1633.96,803.94 1634.27,807.54 1634.58,811.14 1634.89,814.74 1635.20,818.35 1635.51,821.96 1635.82,825.57 1636.12,829.18 1636.43,832.79 1636.74,836.40 1637.05,840.02 1637.36,843.63 1637.67,847.24 1637.98,850.85 1638.29,854.46 1638.60,858.06 1638.91,861.66 1639.21,865.26 1639.52,868.85 1639.83,872.43 1640.14,876.01 1640.45,879.59 1640.76,883.16 1641.07,886.72 1641.38,890.27 1641.69,893.82 1642.00,897.35 1642.30,900.88 1642.61,904.39 1642.92,907.90 1643.23,911.39 1643.54,914.88 1643.85,918.35 1644.16,921.81 1644.47,925.25 1644.78,928.68 1645.09,932.10 1645.39,935.50 1645.70,938.89 1646.01,942.26 1646.32,945.62 1646.63,948.95 1646.94,952.27 1647.25,955.58 1647.56,958.86 1647.87,962.13 1648.18,965.37 1648.48,968.60 1648.79,971.80 1649.10,974.99 1649.41,978.15 1649.72,981.29 1650.03,984.41 1650.34,987.51 1650.65,990.58 1650.96,993.63 1651.27,996.65 1651.57,999.65 1651.88,1002.62 1652.19,1005.57 1652.50,1008.49 1652.81,1011.38 1653.12,1014.25 1653.43,1017.09 1653.74,1019.90 1654.05,1022.68 1654.36,1025.43 1654.66,1028.15 1654.97,1030.85 1655.28,1033.51 1655.59,1036.14 1655.90,1038.74 1656.21,1041.31 1656.52,1043.84 1656.83,1046.35 1657.14,1048.82 1657.45,1051.25 1657.75,1053.66 1658.06,1056.02 1658.37,1058.36 1658.68,1060.65 1658.99,1062.92 1659.30,1065.14 1659.61,1067.33 1659.92,1069.49 1660.23,1071.60 1660.54,1073.68 1660.84,1075.72 1661.15,1077.73 1661.46,1079.69 1661.77,1081.62 1662.08,1083.50 1662.39,1085.35 1662.70,1087.16 1663.01,1088.93 1663.32,1090.65 1663.63,1092.34 1663.93,1093.98 1664.24,1095.58 1664.55,1097.15 1664.86,1098.67 1665.17,1100.14 1665.48,1101.58 1665.79,1102.97 1666.10,1104.31 1666.41,1105.62 1666.72,1106.88 1667.02,1108.10 1667.33,1109.27 1667.64,1110.40 1667.95,1111.48 1668.26,1112.52 1668.57,1113.51 1668.88,1114.46 1669.19,1115.36 1669.50,1116.22 1669.80,1117.03 1670.11,1117.79 1670.42,1118.51 1670.73,1119.18 1671.04,1119.81 1671.35,1120.39 1671.66,1120.92 1671.97,1121.40 1672.28,1121.84 1672.59,1122.22 1672.89,1122.57 1673.20,1122.86 1673.51,1123.10 1673.82,1123.30 1674.13,1123.45 1674.44,1123.55 1674.75,1123.60 1675.06,1123.61 1675.37,1123.56 1675.68,1123.47 1675.98,1123.33 1676.29,1123.14 1676.60,1122.90 1676.91,1122.61 1677.22,1122.27 1677.53,1121.89 1677.84,1121.45 1678.15,1120.97 1678.46,1120.44 1678.77,1119.86 1679.07,1119.22 1679.38,1118.55 1679.69,1117.82 1680.00,1117.04 1680.31,1116.21 1680.62,1115.34 1680.93,1114.41 1681.24,1113.44 1681.55,1112.42 1681.86,1111.35 1682.16,1110.23 1682.47,1109.06 1682.78,1107.84 1683.09,1106.58 1683.40,1105.27 1683.71,1103.90 1684.02,1102.49 1684.33,1101.04 1684.64,1099.53 1684.95,1097.98 1685.25,1096.38 1685.56,1094.73 1685.87,1093.03 1686.18,1091.29 1686.49,1089.50 1686.80,1087.66 1687.11,1085.78 1687.42,1083.85 1687.73,1081.87 1688.04,1079.85 1688.34,1077.78 1688.65,1075.66 1688.96,1073.50 1689.27,1071.30 1689.58,1069.04 1689.89,1066.75 1690.20,1064.41 1690.51,1062.02 1690.82,1059.59 1691.13,1057.12 1691.43,1054.60 1691.74,1052.04 1692.05,1049.44 1692.36,1046.79 1692.67,1044.10 1692.98,1041.37 1693.29,1038.59 1693.60,1035.78 1693.91,1032.92 1694.22,1030.02 1694.52,1027.08 1694.83,1024.10 1695.14,1021.08 1695.45,1018.02 1695.76,1014.92 1696.07,1011.78 1696.38,1008.60 1696.69,1005.39 1697.00,1002.13 1697.31,998.84 1697.61,995.51 1697.92,992.14 1698.23,988.74 1698.54,985.30 1698.85,981.82 1699.16,978.31 1699.47,974.76 1699.78,971.18 1700.09,967.56 1700.40,963.91 1700.70,960.23 1701.01,956.51 1701.32,952.77 1701.63,948.98 1701.94,945.17 1702.25,941.33 1702.56,937.45 1702.87,933.54 1703.18,929.61 1703.49,925.64 1703.79,921.65 1704.10,917.63 1704.41,913.57 1704.72,909.49 1705.03,905.39 1705.34,901.25 1705.65,897.09 1705.96,892.91 1706.27,888.70 1706.57,884.46 1706.88,880.20 1707.19,875.92 1707.50,871.61 1707.81,867.28 1708.12,862.93 1708.43,858.56 1708.74,854.16 1709.05,849.74 1709.36,845.31 1709.66,840.85 1709.97,836.38 1710.28,831.88 1710.59,827.37 1710.90,822.84 1711.21,818.29 1711.52,813.73 1711.83,809.15 1712.14,804.56 1712.45,799.95 1712.75,795.32 1713.06,790.68 1713.37,786.03 1713.68,781.37 1713.99,776.69 1714.30,772.00 1714.61,767.31 1714.92,762.60 1715.23,757.88 1715.54,753.15 1715.84,748.41 1716.15,743.66 1716.46,738.91 1716.77,734.15 1717.08,729.38 1717.39,724.61 1717.70,719.83 1718.01,715.05 1718.32,710.26 1718.63,705.47 1718.93,700.68 1719.24,695.88 1719.55,691.08 1719.86,686.28 1720.17,681.48 1720.48,676.68 1720.79,671.88 1721.10,667.08 1721.41,662.28 1721.72,657.48 1722.02,652.69 1722.33,647.90 1722.64,643.11 1722.95,638.33 1723.26,633.55 1723.57,628.78 1723.88,624.02 1724.19,619.26 1724.50,614.50 1724.81,609.76 1725.11,605.03 1725.42,600.30 1725.73,595.58 1726.04,590.87 1726.35,586.18 1726.66,581.49 1726.97,576.82 1727.28,572.16 1727.59,567.51 1727.90,562.87 1728.20,558.25 1728.51,553.65 1728.82,549.06 1729.13,544.48 1729.44,539.92 1729.75,535.38 1730.06,530.86 1730.37,526.35 1730.68,521.86 1730.99,517.39 1731.29,512.94 1731.60,508.51 1731.91,504.10 1732.22,499.71 1732.53,495.34 1732.84,491.00 1733.15,486.68 1733.46,482.38 1733.77,478.10 1734.08,473.85 1734.38,469.63 1734.69,465.43 1735.00,461.25 1735.31,457.10 1735.62,452.98 1735.93,448.89 1736.24,444.82 1736.55,440.78 1736.86,436.77 1737.17,432.79 1737.47,428.84 1737.78,424.92 1738.09,421.03 1738.40,417.17 1738.71,413.35 1739.02,409.55 1739.33,405.79 1739.64,402.06 1739.95,398.36 1740.26,394.70 1740.56,391.07 1740.87,387.48 1741.18,383.92 1741.49,380.40 1741.80,376.92 1742.11,373.47 1742.42,370.05 1742.73,366.68 1743.04,363.34 1743.34,360.04 1743.65,356.78 1743.96,353.56 1744.27,350.38 1744.58,347.24 1744.89,344.13 1745.20,341.07 1745.51,338.05 1745.82,335.07 1746.13,332.13 1746.43,329.24 1746.74,326.38 1747.05,323.57 1747.36,320.80 1747.67,318.08 1747.98,315.40 1748.29,312.76 1748.60,310.17 1748.91,307.62 1749.22,305.12 1749.52,302.66 1749.83,300.25 1750.14,297.88 1750.45,295.56 1750.76,293.29 1751.07,291.06 1751.38,288.88 1751.69,286.75 1752.00,284.66 1752.31,282.62 1752.61,280.63 1752.92,278.69 1753.23,276.80 1753.54,274.96 1753.85,273.16 1754.16,271.42 1754.47,269.72 1754.78,268.08 1755.09,266.48 1755.40,264.93 1755.70,263.44 1756.01,261.99 1756.32,260.60 1756.63,259.26 1756.94,257.96 1757.25,256.72 1757.56,255.53 1757.87,254.39 1758.18,253.31 1758.49,252.27 1758.79,251.29 1759.10,250.36 1759.41,249.48 1759.72,248.65 1760.03,247.88 1760.34,247.16 1760.65,246.49 1760.96,245.87 1761.27,245.31 1761.58,244.80 1761.88,244.34 1762.19,243.94 1762.50,243.59 1762.81,243.29 1763.12,243.05 1763.43,242.86 1763.74,242.72 1764.05,242.64 1764.36,242.60 1764.67,242.63 1764.97,242.70 1765.28,242.83 1765.59,243.02 1765.90,243.25 1766.21,243.54 1766.52,243.89 1766.83,244.28 1767.14,244.73 1767.45,245.24 1767.76,245.80 1768.06,246.41 1768.37,247.07 1768.68,247.79 1768.99,248.56 1769.30,249.38 1769.61,250.26 1769.92,251.19 1770.23,252.17 1770.54,253.21 1770.85,254.29 1771.15,255.43 1771.46,256.63 1771.77,257.87 1772.08,259.17 1772.39,260.52 1772.70,261.92 1773.01,263.38 1773.32,264.88 1773.63,266.44 1773.94,268.05 1774.24,269.71 1774.55,271.42 1774.86,273.18 1775.17,274.99 1775.48,276.85 1775.79,278.77 1776.10,280.73 1776.41,282.75 1776.72,284.81 1777.03,286.92 1777.33,289.08 1777.64,291.30 1777.95,293.56 1778.26,295.87 1778.57,298.22 1778.88,300.63 1779.19,303.08 1779.50,305.59 1779.81,308.14 1780.11,310.73 1780.42,313.38 1780.73,316.07 1781.04,318.80 1781.35,321.58 1781.66,324.41 1781.97,327.29 1782.28,330.21 1782.59,333.17 1782.90,336.18 1783.20,339.23 1783.51,342.33 1783.82,345.47 1784.13,348.66 1784.44,351.88 1784.75,355.16 1785.06,358.47 1785.37,361.82 1785.68,365.22 1785.99,368.66 1786.29,372.14 1786.60,375.66 1786.91,379.22 1787.22,382.82 1787.53,386.46 1787.84,390.13 1788.15,393.85 1788.46,397.61 1788.77,401.40 1789.08,405.23 1789.38,409.10 1789.69,413.01 1790.00,416.95 1790.31,420.93 1790.62,424.94 1790.93,428.99 1791.24,433.07 1791.55,437.19 1791.86,441.34 1792.17,445.53 1792.47,449.75 1792.78,454.00 1793.09,458.28 1793.40,462.59 1793.71,466.94 1794.02,471.32 1794.33,475.73 1794.64,480.16 1794.95,484.63 1795.26,489.13 1795.56,493.65 1795.87,498.20 1796.18,502.78 1796.49,507.39 1796.80,512.03 1797.11,516.69 1797.42,521.37 1797.73,526.09 1798.04,530.82 1798.35,535.58 1798.65,540.37 1798.96,545.17 1799.27,550.01 1799.58,554.86 1799.89,559.73 1800.20,564.63 1800.51,569.55 1800.82,574.48 1801.13,579.44 1801.44,584.42 1801.74,589.41 1802.05,594.43 1802.36,599.46 1802.67,604.51 1802.98,609.57 1803.29,614.65 1803.60,619.75 1803.91,624.86 1804.22,629.99 1804.53,635.13 1804.83,640.29 1805.14,645.45 1805.45,650.64 1805.76,655.83 1806.07,661.03 1806.38,666.25 1806.69,671.47 1807.00,676.71 1807.31,681.95 1807.62,687.21 1807.92,692.47 1808.23,697.74 1808.54,703.02 1808.85,708.30 1809.16,713.59 1809.47,718.89 1809.78,724.19 1810.09,729.50 1810.40,734.81 1810.71,740.12 1811.01,745.44 1811.32,750.76 1811.63,756.08 1811.94,761.40 1812.25,766.72 1812.56,772.05 1812.87,777.37 1813.18,782.69 1813.49,788.01 1813.80,793.33 1814.10,798.65 1814.41,803.97 1814.72,809.28 1815.03,814.58 1815.34,819.89 1815.65,825.18 1815.96,830.48 1816.27,835.76 1816.58,841.04 1816.88,846.31 1817.19,851.58 1817.50,856.84 1817.81,862.08 1818.12,867.32 1818.43,872.55 1818.74,877.77 1819.05,882.98 1819.36,888.18 1819.67,893.36 1819.97,898.53 1820.28,903.69 1820.59,908.84 1820.90,913.97 1821.21,919.09 1821.52,924.20 1821.83,929.28 1822.14,934.36 1822.45,939.41 1822.76,944.45 1823.06,949.48 1823.37,954.48 1823.68,959.47 1823.99,964.43 1824.30,969.38 1824.61,974.31 1824.92,979.22 1825.23,984.11 1825.54,988.97 1825.85,993.82 1826.15,998.64 1826.46,1003.44 1826.77,1008.22 1827.08,1012.97 1827.39,1017.70 1827.70,1022.40 1828.01,1027.08 1828.32,1031.74 1828.63,1036.37 1828.94,1040.97 1829.24,1045.55 1829.55,1050.09 1829.86,1054.62 1830.17,1059.11 1830.48,1063.57 1830.79,1068.01 1831.10,1072.42 1831.41,1076.79 1831.72,1081.14 1832.03,1085.46 1832.33,1089.74 1832.64,1093.99 1832.95,1098.22 1833.26,1102.41 1833.57,1106.56 1833.88,1110.69 1834.19,1114.78 1834.50,1118.84 1834.81,1122.86 1835.12,1126.85 1835.42,1130.80 1835.73,1134.72 1836.04,1138.60 1836.35,1142.45 1836.66,1146.26 1836.97,1150.03 1837.28,1153.77 1837.59,1157.47 1837.90,1161.13 1838.21,1164.75 1838.51,1168.34 1838.82,1171.89 1839.13,1175.39 1839.44,1178.86 1839.75,1182.29 1840.06,1185.68 1840.37,1189.02 1840.68,1192.33 1840.99,1195.60 1841.30,1198.82 1841.60,1202.00 1841.91,1205.14 1842.22,1208.24 1842.53,1211.30 1842.84,1214.31 1843.15,1217.28 1843.46,1220.21 1843.77,1223.10 1844.08,1225.94 1844.39,1228.73 1844.69,1231.48 1845.00,1234.19 1845.31,1236.85 1845.62,1239.47 1845.93,1242.04 1846.24,1244.57 1846.55,1247.05 1846.86,1249.48 1847.17,1251.87 1847.48,1254.21 1847.78,1256.51 1848.09,1258.76 1848.40,1260.96 1848.71,1263.11 1849.02,1265.22 1849.33,1267.28 1849.64,1269.29 1849.95,1271.26 1850.26,1273.17 1850.57,1275.04 1850.87,1276.86 1851.18,1278.63 1851.49,1280.35 1851.80,1282.03 1852.11,1283.65 1852.42,1285.23 1852.73,1286.75 1853.04,1288.23 1853.35,1289.66 1853.65,1291.04 1853.96,1292.36 1854.27,1293.64 1854.58,1294.87 1854.89,1296.05 1855.20,1297.18 1855.51,1298.25 1855.82,1299.28 1856.13,1300.26 1856.44,1301.19 1856.74,1302.06 1857.05,1302.89 1857.36,1303.66 1857.67,1304.39 1857.98,1305.06 1858.29,1305.69 1858.60,1306.26 1858.91,1306.78 1859.22,1307.25 1859.53,1307.67 1859.83,1308.04 1860.14,1308.36 1860.45,1308.62 1860.76,1308.84 1861.07,1309.01 1861.38,1309.12 1861.69,1309.18 1862.00,1309.20 1862.31,1309.16 1862.62,1309.07 1862.92,1308.93 1863.23,1308.74 1863.54,1308.50 1863.85,1308.21 1864.16,1307.87 1864.47,1307.47 1864.78,1307.03 1865.09,1306.53 1865.40,1305.99 1865.71,1305.40 1866.01,1304.75 1866.32,1304.06 1866.63,1303.31 1866.94,1302.51 1867.25,1301.67 1867.56,1300.77 1867.87,1299.83 1868.18,1298.84 1868.49,1297.79 1868.80,1296.70 1869.10,1295.56 1869.41,1294.37 1869.72,1293.13 1870.03,1291.84 1870.34,1290.50 1870.65,1289.11 1870.96,1287.68 1871.27,1286.20 1871.58,1284.67 1871.89,1283.09 1872.19,1281.46 1872.50,1279.79 1872.81,1278.06 1873.12,1276.30 1873.43,1274.48 1873.74,1272.62 1874.05,1270.71 1874.36,1268.75 1874.67,1266.75 1874.98,1264.70 1875.28,1262.61 1875.59,1260.47 1875.90,1258.28 1876.21,1256.05 1876.52,1253.78 1876.83,1251.46 1877.14,1249.10 1877.45,1246.69 1877.76,1244.23 1878.07,1241.74 1878.37,1239.20 1878.68,1236.61 1878.99,1233.99 1879.30,1231.32 1879.61,1228.61 1879.92,1225.85 1880.23,1223.06 1880.54,1220.22 1880.85,1217.34 1881.16,1214.42 1881.46,1211.46 1881.77,1208.46 1882.08,1205.42 1882.39,1202.33 1882.70,1199.21 1883.01,1196.05 1883.32,1192.85 1883.63,1189.61 1883.94,1186.33 1884.25,1183.02 1884.55,1179.66 1884.86,1176.27 1885.17,1172.84 1885.48,1169.38 1885.79,1165.88 1886.10,1162.34 1886.41,1158.77 1886.72,1155.16 1887.03,1151.51 1887.34,1147.83 1887.64,1144.12 1887.95,1140.37 1888.26,1136.59 1888.57,1132.77 1888.88,1128.92 1889.19,1125.04 1889.50,1121.13 1889.81,1117.18 1890.12,1113.20 1890.42,1109.19 1890.73,1105.15 1891.04,1101.08 1891.35,1096.98 1891.66,1092.85 1891.97,1088.69 1892.28,1084.50 1892.59,1080.28 1892.90,1076.04 1893.21,1071.76 1893.51,1067.46 1893.82,1063.13 1894.13,1058.78 1894.44,1054.40 1894.75,1049.99 1895.06,1045.56 1895.37,1041.10 1895.68,1036.62 1895.99,1032.11 1896.30,1027.58 1896.60,1023.02 1896.91,1018.45 1897.22,1013.84 1897.53,1009.22 1897.84,1004.58 1898.15,999.91 1898.46,995.23 1898.77,990.52 1899.08,985.79 1899.39,981.04 1899.69,976.28 1900.00,971.49 1900.31,966.69 1900.62,961.87 1900.93,957.03 1901.24,952.17 1901.55,947.30 1901.86,942.41 1902.17,937.50 1902.48,932.58 1902.78,927.64 1903.09,922.69 1903.40,917.73 1903.71,912.75 1904.02,907.76 1904.33,902.76 1904.64,897.74 1904.95,892.71 1905.26,887.67 1905.57,882.62 1905.87,877.56 1906.18,872.48 1906.49,867.40 1906.80,862.31 1907.11,857.21 1907.42,852.10 1907.73,846.99 1908.04,841.86 1908.35,836.73 1908.66,831.59 1908.96,826.45 1909.27,821.30 1909.58,816.14 1909.89,810.99 1910.20,805.82 1910.51,800.65 1910.82,795.48 1911.13,790.31 1911.44,785.13 1911.75,779.95 1912.05,774.77 1912.36,769.58 1912.67,764.40 1912.98,759.22 1913.29,754.03 1913.60,748.85 1913.91,743.66 1914.22,738.48 1914.53,733.30 1914.84,728.13 1915.14,722.95 1915.45,717.78 1915.76,712.61 1916.07,707.44 1916.38,702.28 1916.69,697.13 1917.00,691.98 1917.31,686.83 1917.62,681.69 1917.93,676.56 1918.23,671.44 1918.54,666.32 1918.85,661.21 1919.16,656.11 1919.47,651.01 1919.78,645.93 1920.09,640.85 1920.40,635.79 1920.71,630.73 1921.02,625.69 1921.32,620.66 1921.63,615.63 1921.94,610.62 1922.25,605.63 1922.56,600.64 1922.87,595.67 1923.18,590.71 1923.49,585.77 1923.80,580.84 1924.11,575.93 1924.41,571.03 1924.72,566.14 1925.03,561.27 1925.34,556.42 1925.65,551.59 1925.96,546.77 1926.27,541.97 1926.58,537.18 1926.89,532.42 1927.19,527.67 1927.50,522.95 1927.81,518.24 1928.12,513.55 1928.43,508.89 1928.74,504.24 1929.05,499.61 1929.36,495.01 1929.67,490.42 1929.98,485.86 1930.28,481.32 1930.59,476.81 1930.90,472.31 1931.21,467.84 1931.52,463.40 1931.83,458.98 1932.14,454.58 1932.45,450.21 1932.76,445.86 1933.07,441.54 1933.37,437.24 1933.68,432.97 1933.99,428.72 1934.30,424.51 1934.61,420.32 1934.92,416.15 1935.23,412.02 1935.54,407.91 1935.85,403.83 1936.16,399.78 1936.46,395.76 1936.77,391.77 1937.08,387.80 1937.39,383.87 1937.70,379.97 1938.01,376.10 1938.32,372.25 1938.63,368.44 1938.94,364.66 1939.25,360.92 1939.55,357.20 1939.86,353.52 1940.17,349.87 1940.48,346.25 1940.79,342.66 1941.10,339.11 1941.41,335.59 1941.72,332.10 1942.03,328.65 1942.34,325.23 1942.64,321.85 1942.95,318.50 1943.26,315.19 1943.57,311.91 1943.88,308.67 1944.19,305.46 1944.50,302.29 1944.81,299.15 1945.12,296.05 1945.43,292.99 1945.73,289.97 1946.04,286.98 1946.35,284.02 1946.66,281.11 1946.97,278.23 1947.28,275.39 1947.59,272.59 1947.90,269.83 1948.21,267.10 1948.52,264.42 1948.82,261.77 1949.13,259.16 1949.44,256.59 1949.75,254.06 1950.06,251.56 1950.37,249.11 1950.68,246.70 1950.99,244.33 1951.30,241.99 1951.61,239.70 1951.91,237.45 1952.22,235.24 1952.53,233.06 1952.84,230.93 1953.15,228.84 1953.46,226.79 1953.77,224.78 1954.08,222.82 1954.39,220.89 1954.70,219.01 1955.00,217.16 1955.31,215.36 1955.62,213.60 1955.93,211.88 1956.24,210.21 1956.55,208.57 1956.86,206.98 1957.17,205.43 1957.48,203.93 1957.79,202.46 1958.09,201.04 1958.40,199.66 1958.71,198.32 1959.02,197.02 1959.33,195.77 1959.64,194.56 1959.95,193.39 1960.26,192.27 1960.57,191.19 1960.88,190.15 1961.18,189.15 1961.49,188.20 1961.80,187.29 1962.11,186.42 1962.42,185.60 1962.73,184.82 1963.04,184.08 1963.35,183.39 1963.66,182.73 1963.96,182.13 1964.27,181.56 1964.58,181.04 1964.89,180.56 1965.20,180.12 1965.51,179.73 1965.82,179.38 1966.13,179.08 1966.44,178.81 1966.75,178.59 1967.05,178.41 1967.36,178.28 1967.67,178.19 1967.98,178.14 1968.29,178.13 1968.60,178.17 1968.91,178.25 1969.22,178.37 1969.53,178.54 1969.84,178.75 1970.14,179.00 1970.45,179.29 1970.76,179.62 1971.07,180.00 1971.38,180.42 1971.69,180.88 1972.00,181.39 1972.31,181.93 1972.62,182.52 1972.93,183.15 1973.23,183.82 1973.54,184.53 1973.85,185.29 1974.16,186.09 1974.47,186.92 1974.78,187.80 1975.09,188.72 1975.40,189.68 1975.71,190.68 1976.02,191.73 1976.32,192.81 1976.63,193.93 1976.94,195.10 1977.25,196.30 1977.56,197.55 1977.87,198.83 1978.18,200.16 1978.49,201.52 1978.80,202.92 1979.11,204.37 1979.41,205.85 1979.72,207.37 1980.03,208.93 1980.34,210.53 1980.65,212.17 1980.96,213.84 1981.27,215.56 1981.58,217.31 1981.89,219.10 1982.20,220.93 1982.50,222.79 1982.81,224.69 1983.12,226.63 1983.43,228.61 1983.74,230.63 1984.05,232.68 1984.36,234.76 1984.67,236.89 1984.98,239.04 1985.29,241.24 1985.59,243.47 1985.90,245.74 1986.21,248.04 1986.52,250.37 1986.83,252.74 1987.14,255.15 1987.45,257.59 1987.76,260.06 1988.07,262.57 1988.38,265.11 1988.68,267.68 1988.99,270.29 1989.30,272.93 1989.61,275.61 1989.92,278.31 1990.23,281.05 1990.54,283.82 1990.85,286.62 1991.16,289.45 1991.47,292.32 1991.77,295.21 1992.08,298.14 1992.39,301.10 1992.70,304.08 1993.01,307.10 1993.32,310.14 1993.63,313.22 1993.94,316.33 1994.25,319.46 1994.56,322.62 1994.86,325.81 1995.17,329.03 1995.48,332.28 1995.79,335.55 1996.10,338.85 1996.41,342.18 1996.72,345.54 1997.03,348.92 1997.34,352.33 1997.65,355.76 1997.95,359.22 1998.26,362.70 1998.57,366.21 1998.88,369.75 1999.19,373.31 1999.50,376.89 1999.81,380.50 2000.12,384.13 2000.43,387.78 2000.73,391.45 2001.04,395.15 2001.35,398.87 2001.66,402.62 2001.97,406.38 2002.28,410.17 2002.59,413.98 2002.90,417.81 2003.21,421.65 2003.52,425.52 2003.82,429.41 2004.13,433.32 2004.44,437.25 2004.75,441.19 2005.06,445.16 2005.37,449.14 2005.68,453.14 2005.99,457.16 2006.30,461.20 2006.61,465.25 2006.91,469.32 2007.22,473.41 2007.53,477.51 2007.84,481.63 2008.15,485.77 2008.46,489.92 2008.77,494.08 2009.08,498.26 2009.39,502.45 2009.70,506.66 2010.00,510.88 2010.31,515.11 2010.62,519.36 2010.93,523.62 2011.24,527.89 2011.55,532.17 2011.86,536.46 2012.17,540.77 2012.48,545.09 2012.79,549.41 2013.09,553.75 2013.40,558.10 2013.71,562.45 2014.02,566.82 2014.33,571.19 2014.64,575.58 2014.95,579.97 2015.26,584.37 2015.57,588.78 2015.88,593.19 2016.18,597.61 2016.49,602.04 2016.80,606.48 2017.11,610.92 2017.42,615.36 2017.73,619.81 2018.04,624.27 2018.35,628.73 2018.66,633.20 2018.97,637.67 2019.27,642.14 2019.58,646.62 2019.89,651.10 2020.20,655.58 2020.51,660.06 2020.82,664.55 2021.13,669.04 2021.44,673.53 2021.75,678.02 2022.06,682.51 2022.36,687.00 2022.67,691.49 2022.98,695.99 2023.29,700.48 2023.60,704.97 2023.91,709.46 2024.22,713.94 2024.53,718.43 2024.84,722.91 2025.15,727.40 2025.45,731.87 2025.76,736.35 2026.07,740.82 2026.38,745.29 2026.69,749.75 2027.00,754.21 2027.31,758.67 2027.62,763.12 2027.93,767.56 2028.24,772.00 2028.54,776.44 2028.85,780.86 2029.16,785.29 2029.47,789.70 2029.78,794.11 2030.09,798.51 2030.40,802.90 2030.71,807.28 2031.02,811.66 2031.33,816.02 2031.63,820.38 2031.94,824.73 2032.25,829.07 2032.56,833.40 2032.87,837.72 2033.18,842.03 2033.49,846.32 2033.80,850.61 2034.11,854.89 2034.42,859.15 2034.72,863.40 2035.03,867.64 2035.34,871.87 2035.65,876.09 2035.96,880.29 2036.27,884.48 2036.58,888.66 2036.89,892.82 2037.20,896.96 2037.51,901.10 2037.81,905.22 2038.12,909.32 2038.43,913.41 2038.74,917.48 2039.05,921.54 2039.36,925.58 2039.67,929.61 2039.98,933.62 2040.29,937.61 2040.59,941.59 2040.90,945.55 2041.21,949.49 2041.52,953.41 2041.83,957.31 2042.14,961.20 2042.45,965.07 2042.76,968.92 2043.07,972.75 2043.38,976.56 2043.68,980.36 2043.99,984.13 2044.30,987.88 2044.61,991.61 2044.92,995.33 2045.23,999.02 2045.54,1002.69 2045.85,1006.34 2046.16,1009.97 2046.47,1013.58 2046.77,1017.16 2047.08,1020.72 2047.39,1024.27 2047.70,1027.79 2048.01,1031.28 2048.32,1034.76 2048.63,1038.21 2048.94,1041.63 2049.25,1045.04 2049.56,1048.42 2049.86,1051.78 2050.17,1055.11 2050.48,1058.42 2050.79,1061.70 2051.10,1064.96 2051.41,1068.20 2051.72,1071.41 2052.03,1074.59 2052.34,1077.75 2052.65,1080.89 2052.95,1084.00 2053.26,1087.08 2053.57,1090.14 2053.88,1093.17 2054.19,1096.17 2054.50,1099.15 2054.81,1102.10 2055.12,1105.03 2055.43,1107.92 2055.74,1110.79 2056.04,1113.64 2056.35,1116.45 2056.66,1119.24 2056.97,1122.00 2057.28,1124.73 2057.59,1127.44 2057.90,1130.11 2058.21,1132.76 2058.52,1135.38 2058.83,1137.97 2059.13,1140.53 2059.44,1143.06 2059.75,1145.57 2060.06,1148.04 2060.37,1150.49 2060.68,1152.90 2060.99,1155.29 2061.30,1157.65 2061.61,1159.97 2061.92,1162.27 2062.22,1164.54 2062.53,1166.78 2062.84,1168.98 2063.15,1171.16 2063.46,1173.31 2063.77,1175.42 2064.08,1177.51 2064.39,1179.56 2064.70,1181.59 2065.01,1183.58 2065.31,1185.54 2065.62,1187.47 2065.93,1189.37 2066.24,1191.24 2066.55,1193.08 2066.86,1194.89 2067.17,1196.66 2067.48,1198.40 2067.79,1200.12 2068.10,1201.80 2068.40,1203.44 2068.71,1205.06 2069.02,1206.65 2069.33,1208.20 2069.64,1209.72 2069.95,1211.21 2070.26,1212.67 2070.57,1214.09 2070.88,1215.48 2071.19,1216.85 2071.49,1218.17 2071.80,1219.47 2072.11,1220.73 2072.42,1221.97 2072.73,1223.17 2073.04,1224.33 2073.35,1225.47 2073.66,1226.57 2073.97,1227.64 2074.28,1228.68 2074.58,1229.68 2074.89,1230.65 2075.20,1231.59 2075.51,1232.50 2075.82,1233.38 2076.13,1234.22 2076.44,1235.03 2076.75,1235.80 2077.06,1236.55 2077.36,1237.26 2077.67,1237.94 2077.98,1238.59 2078.29,1239.20 2078.60,1239.78 2078.91,1240.33 2079.22,1240.85 2079.53,1241.33 2079.84,1241.79 2080.15,1242.21 2080.45,1242.59 2080.76,1242.95 2081.07,1243.27 2081.38,1243.56 2081.69,1243.82 2082.00,1244.04 2082.31,1244.24 2082.62,1244.40 2082.93,1244.53 2083.24,1244.62 2083.54,1244.69 2083.85,1244.72 2084.16,1244.72 2084.47,1244.69 2084.78,1244.63 2085.09,1244.53 2085.40,1244.41 2085.71,1244.25 2086.02,1244.06 2086.33,1243.84 2086.63,1243.59 2086.94,1243.30 2087.25,1242.99 2087.56,1242.64 2087.87,1242.26 2088.18,1241.85 2088.49,1241.41 2088.80,1240.94 2089.11,1240.44 2089.42,1239.91 2089.72,1239.35 2090.03,1238.75 2090.34,1238.13 2090.65,1237.47 2090.96,1236.79 2091.27,1236.07 2091.58,1235.33 2091.89,1234.55 2092.20,1233.74 2092.51,1232.91 2092.81,1232.04 2093.12,1231.15 2093.43,1230.23 2093.74,1229.27 2094.05,1228.29 2094.36,1227.28 2094.67,1226.23 2094.98,1225.16 2095.29,1224.06 2095.60,1222.94 2095.90,1221.78 2096.21,1220.60 2096.52,1219.38 2096.83,1218.14 2097.14,1216.87 2097.45,1215.57 2097.76,1214.25 2098.07,1212.89 2098.38,1211.51 2098.69,1210.10 2098.99,1208.67 2099.30,1207.21 2099.61,1205.72 2099.92,1204.20 2100.23,1202.66 2100.54,1201.09 2100.85,1199.49 2101.16,1197.87 2101.47,1196.22 2101.78,1194.54 2102.08,1192.84 2102.39,1191.12 2102.70,1189.36 2103.01,1187.59 2103.32,1185.78 2103.63,1183.96 2103.94,1182.10 2104.25,1180.23 2104.56,1178.33 2104.87,1176.40 2105.17,1174.45 2105.48,1172.47 2105.79,1170.48 2106.10,1168.45 2106.41,1166.41 2106.72,1164.34 2107.03,1162.25 2107.34,1160.13 2107.65,1157.99 2107.96,1155.83 2108.26,1153.65 2108.57,1151.44 2108.88,1149.21 2109.19,1146.96 2109.50,1144.69 2109.81,1142.40 2110.12,1140.08 2110.43,1137.75 2110.74,1135.39 2111.05,1133.01 2111.35,1130.61 2111.66,1128.19 2111.97,1125.75 2112.28,1123.29 2112.59,1120.81 2112.90,1118.31 2113.21,1115.79 2113.52,1113.25 2113.83,1110.70 2114.13,1108.12 2114.44,1105.53 2114.75,1102.91 2115.06,1100.28 2115.37,1097.63 2115.68,1094.96 2115.99,1092.27 2116.30,1089.57 2116.61,1086.85 2116.92,1084.11 2117.22,1081.36 2117.53,1078.58 2117.84,1075.80 2118.15,1072.99 2118.46,1070.17 2118.77,1067.33 2119.08,1064.48 2119.39,1061.61 2119.70,1058.73 2120.01,1055.83 2120.31,1052.92 2120.62,1049.99 2120.93,1047.05 2121.24,1044.09 2121.55,1041.12 2121.86,1038.13 2122.17,1035.14 2122.48,1032.12 2122.79,1029.10 2123.10,1026.06 2123.40,1023.01 2123.71,1019.95 2124.02,1016.87 2124.33,1013.79 2124.64,1010.69 2124.95,1007.57 2125.26,1004.45 2125.57,1001.32 2125.88,998.17 2126.19,995.02 2126.49,991.85 2126.80,988.67 2127.11,985.49 2127.42,982.29 2127.73,979.08 2128.04,975.87 2128.35,972.64 2128.66,969.41 2128.97,966.16 2129.28,962.91 2129.58,959.65 2129.89,956.38 2130.20,953.11 2130.51,949.82 2130.82,946.53 2131.13,943.23 2131.44,939.92 2131.75,936.61 2132.06,933.29 2132.37,929.96 2132.67,926.63 2132.98,923.29 2133.29,919.95 2133.60,916.60 2133.91,913.24 2134.22,909.88 2134.53,906.52 2134.84,903.15 2135.15,899.77 2135.46,896.39 2135.76,893.01 2136.07,889.62 2136.38,886.23 2136.69,882.84 2137.00,879.44 2137.31,876.04 2137.62,872.64 2137.93,869.23 2138.24,865.82 2138.55,862.41 2138.85,859.00 2139.16,855.59 2139.47,852.17 2139.78,848.75 2140.09,845.34 2140.40,841.92 2140.71,838.50 2141.02,835.08 2141.33,831.66 2141.64,828.24 2141.94,824.82 2142.25,821.40 2142.56,817.98 2142.87,814.57 2143.18,811.15 2143.49,807.73 2143.80,804.32 2144.11,800.91 2144.42,797.50 2144.73,794.09 2145.03,790.68 2145.34,787.28 2145.65,783.88 2145.96,780.48 2146.27,777.08 2146.58,773.69 2146.89,770.30 2147.20,766.92 2147.51,763.54 2147.82,760.16 2148.12,756.79 2148.43,753.42 2148.74,750.06 2149.05,746.70 2149.36,743.35 2149.67,740.00 2149.98,736.65 2150.29,733.32 2150.60,729.99 2150.90,726.66 2151.21,723.34 2151.52,720.03 2151.83,716.72 2152.14,713.42 2152.45,710.13 2152.76,706.85 2153.07,703.57 2153.38,700.30 2153.69,697.04 2153.99,693.78 2154.30,690.53 2154.61,687.30 2154.92,684.07 2155.23,680.84 2155.54,677.63 2155.85,674.43 2156.16,671.23 2156.47,668.05 2156.78,664.87 2157.08,661.70 2157.39,658.55 2157.70,655.40 2158.01,652.27 2158.32,649.14 2158.63,646.02 2158.94,642.92 2159.25,639.82 2159.56,636.74 2159.87,633.67 2160.17,630.61 2160.48,627.56 2160.79,624.52 2161.10,621.50 2161.41,618.48 2161.72,615.48 2162.03,612.49 2162.34,609.51 2162.65,606.55 2162.96,603.60 2163.26,600.66 2163.57,597.73 2163.88,594.82 2164.19,591.92 2164.50,589.03 2164.81,586.16 2165.12,583.30 2165.43,580.46 2165.74,577.63 2166.05,574.81 2166.35,572.01 2166.66,569.22 2166.97,566.45 2167.28,563.69 2167.59,560.95 2167.90,558.22 2168.21,555.50 2168.52,552.80 2168.83,550.12 2169.14,547.45 2169.44,544.80 2169.75,542.17 2170.06,539.55 2170.37,536.94 2170.68,534.35 2170.99,531.78 2171.30,529.22 2171.61,526.69 2171.92,524.16 2172.23,521.66 2172.53,519.17 2172.84,516.70 2173.15,514.24 2173.46,511.80 2173.77,509.38 2174.08,506.98 2174.39,504.59 2174.70,502.22 2175.01,499.87 2175.32,497.54 2175.62,495.23 2175.93,492.93 2176.24,490.65 2176.55,488.39 2176.86,486.15 2177.17,483.92 2177.48,481.72 2177.79,479.53 2178.10,477.36 2178.41,475.21 2178.71,473.08 2179.02,470.97 2179.33,468.88 2179.64,466.80 2179.95,464.75 2180.26,462.71 2180.57,460.69 2180.88,458.70 2181.19,456.72 2181.50,454.76 2181.80,452.82 2182.11,450.90 2182.42,449.01 2182.73,447.13 2183.04,445.27 2183.35,443.43 2183.66,441.61 2183.97,439.81 2184.28,438.03 2184.59,436.27 2184.89,434.53 2185.20,432.81 2185.51,431.11 2185.82,429.44 2186.13,427.78 2186.44,426.14 2186.75,424.53 2187.06,422.93 2187.37,421.36 2187.67,419.80 2187.98,418.27 2188.29,416.76 2188.60,415.26 2188.91,413.79 2189.22,412.34 2189.53,410.91 2189.84,409.51 2190.15,408.12 2190.46,406.75 2190.76,405.41 2191.07,404.08 2191.38,402.78 2191.69,401.50 2192.00,400.24 2192.31,399.00 2192.62,397.78 2192.93,396.59 2193.24,395.41 2193.55,394.26 2193.85,393.13 2194.16,392.02 2194.47,390.93 2194.78,389.86 2195.09,388.81 2195.40,387.79 2195.71,386.78 2196.02,385.80 2196.33,384.84 2196.64,383.90 2196.94,382.98 2197.25,382.09 2197.56,381.21 2197.87,380.36 2198.18,379.53 2198.49,378.72 2198.80,377.93 2199.11,377.16 2199.42,376.41 2199.73,375.69 2200.03,374.99 2200.34,374.31 2200.65,373.65 2200.96,373.01 2201.27,372.39 2201.58,371.79 2201.89,371.22 2202.20,370.67 2202.51,370.14 2202.82,369.63 2203.12,369.14 2203.43,368.67 2203.74,368.22 2204.05,367.80 2204.36,367.39 2204.67,367.01 2204.98,366.65 2205.29,366.31 2205.60,365.99 2205.91,365.69 2206.21,365.42 2206.52,365.16 2206.83,364.93 2207.14,364.71 2207.45,364.52 2207.76,364.35 2208.07,364.20 2208.38,364.07 2208.69,363.96 2209.00,363.87 2209.30,363.80 2209.61,363.75 2209.92,363.73 2210.23,363.72 2210.54,363.73 2210.85,363.77 2211.16,363.82 2211.47,363.90 2211.78,363.99 2212.09,364.11 2212.39,364.25 2212.70,364.40 2213.01,364.58 2213.32,364.78 2213.63,364.99 2213.94,365.23 2214.25,365.49 2214.56,365.76 2214.87,366.06 2215.18,366.37 2215.48,366.71 2215.79,367.06 2216.10,367.44 2216.41,367.83 2216.72,368.24 2217.03,368.68 2217.34,369.13 2217.65,369.60 2217.96,370.09 2218.27,370.60 2218.57,371.12 2218.88,371.67 2219.19,372.23 2219.50,372.82 2219.81,373.42 2220.12,374.04 2220.43,374.68 2220.74,375.34 2221.05,376.01 2221.36,376.71 2221.66,377.42 2221.97,378.15 2222.28,378.90 2222.59,379.67 2222.90,380.45 2223.21,381.25 2223.52,382.07 2223.83,382.91 2224.14,383.76 2224.44,384.63 2224.75,385.52 2225.06,386.43 2225.37,387.35 2225.68,388.29 2225.99,389.25 2226.30,390.22 2226.61,391.21 2226.92,392.22 2227.23,393.24 2227.53,394.28 2227.84,395.34 2228.15,396.41 2228.46,397.50 2228.77,398.60 2229.08,399.72"/>
<rect x="364.95" y="51.93" width="7.00" height="1384.07" rx="0" fill="#000"/>
<rect x="364.95" y="1429.00" width="1860.95" height="7.00" rx="1.0" fill="#000"/>
<rect x="339.55" y="1429.00" width="28.90" height="7.00" rx="1.6" fill="#000"/>
<text class="tick" text-anchor="end" x="323.50" y="1450.60">-1.2</text>
<rect x="352.45" y="1314.24" width="16.00" height="7.00" rx="1.6" fill="#000"/>
<rect x="339.55" y="1199.49" width="28.90" height="7.00" rx="1.6" fill="#000"/>
<text class="tick" text-anchor="end" x="323.50" y="1221.09">-0.8</text>
<rect x="352.45" y="1084.73" width="16.00" height="7.00" rx="1.6" fill="#000"/>
<rect x="339.55" y="969.98" width="28.90" height="7.00" rx="1.6" fill="#000"/>
<text class="tick" text-anchor="end" x="323.50" y="991.58">-0.4</text>
<rect x="352.45" y="855.22" width="16.00" height="7.00" rx="1.6" fill="#000"/>
<rect x="339.55" y="740.46" width="28.90" height="7.00" rx="1.6" fill="#000"/>
<text class="tick" text-anchor="end" x="323.50" y="762.06">0.0</text>
<rect x="352.45" y="625.71" width="16.00" height="7.00" rx="1.6" fill="#000"/>
<rect x="339.55" y="510.95" width="28.90" height="7.00" rx="1.6" fill="#000"/>
<text class="tick" text-anchor="end" x="323.50" y="532.55">0.4</text>
<rect x="352.45" y="396.20" width="16.00" height="7.00" rx="1.6" fill="#000"/>
<rect x="339.55" y="281.44" width="28.90" height="7.00" rx="1.6" fill="#000"/>
<text class="tick" text-anchor="end" x="323.50" y="303.04">0.8</text>
<rect x="352.45" y="166.69" width="16.00" height="7.00" rx="1.6" fill="#000"/>
<rect x="339.55" y="51.93" width="28.90" height="7.00" rx="1.6" fill="#000"/>
<text class="tick" text-anchor="end" x="323.50" y="73.53">1.2</text>
<rect x="364.95" y="1432.50" width="7.00" height="28.90" rx="1.6" fill="#000"/>
<text class="tick" text-anchor="middle" x="367.95" y="1527.60">300</text>
<rect x="519.45" y="1432.50" width="7.00" height="16.00" rx="1.6" fill="#000"/>
<rect x="673.94" y="1432.50" width="7.00" height="28.90" rx="1.6" fill="#000"/>
<text class="tick" text-anchor="middle" x="676.94" y="1527.60">400</text>
<rect x="828.44" y="1432.50" width="7.00" height="16.00" rx="1.6" fill="#000"/>
<rect x="982.93" y="1432.50" width="7.00" height="28.90" rx="1.6" fill="#000"/>
<text class="tick" text-anchor="middle" x="985.93" y="1527.60">500</text>
<rect x="1137.43" y="1432.50" width="7.00" height="16.00" rx="1.6" fill="#000"/>
<rect x="1291.92" y="1432.50" width="7.00" height="28.90" rx="1.6" fill="#000"/>
<text class="tick" text-anchor="middle" x="1294.92" y="1527.60">600</text>
<rect x="1446.42" y="1432.50" width="7.00" height="16.00" rx="1.6" fill="#000"/>
<rect x="1600.92" y="1432.50" width="7.00" height="28.90" rx="1.6" fill="#000"/>
<text class="tick" text-anchor="middle" x="1603.92" y="1527.60">700</text>
<rect x="1755.41" y="1432.50" width="7.00" height="16.00" rx="1.6" fill="#000"/>
<rect x="1909.91" y="1432.50" width="7.00" height="28.90" rx="1.6" fill="#000"/>
<text class="tick" text-anchor="middle" x="1912.91" y="1527.60">800</text>
<rect x="2064.40" y="1432.50" width="7.00" height="16.00" rx="1.6" fill="#000"/>
<rect x="2218.90" y="1432.50" width="7.00" height="28.90" rx="1.6" fill="#000"/>
<text class="tick" text-anchor="middle" x="2221.90" y="1527.60">900</text>
<text class="title" text-anchor="middle" x="1297.70" y="1663.00">Wavelength (nm)</text>
<text class="title" style="font-size:90.5px" text-anchor="start" transform="translate(87.60,1132.40) rotate(-90)">Transmission</text>
<text class="title" text-anchor="start" font-style="italic" transform="translate(87.60,565.30) rotate(-90)">T</text>
<text class="sub" text-anchor="middle" transform="translate(98.20,494.20) rotate(-90)">_</text>
<rect x="1331.00" y="73.00" width="894.00" height="83.00" fill="#000"/>
<rect x="1311.80" y="54.20" width="893.20" height="82.80" fill="#fff" stroke="#000" stroke-width="2.0"/>
<text class="legend" text-anchor="start" x="1325.80" y="120.50">Quartz 1 mm / PVA 0.1 mm</text>
</svg>
</body>
</html>
